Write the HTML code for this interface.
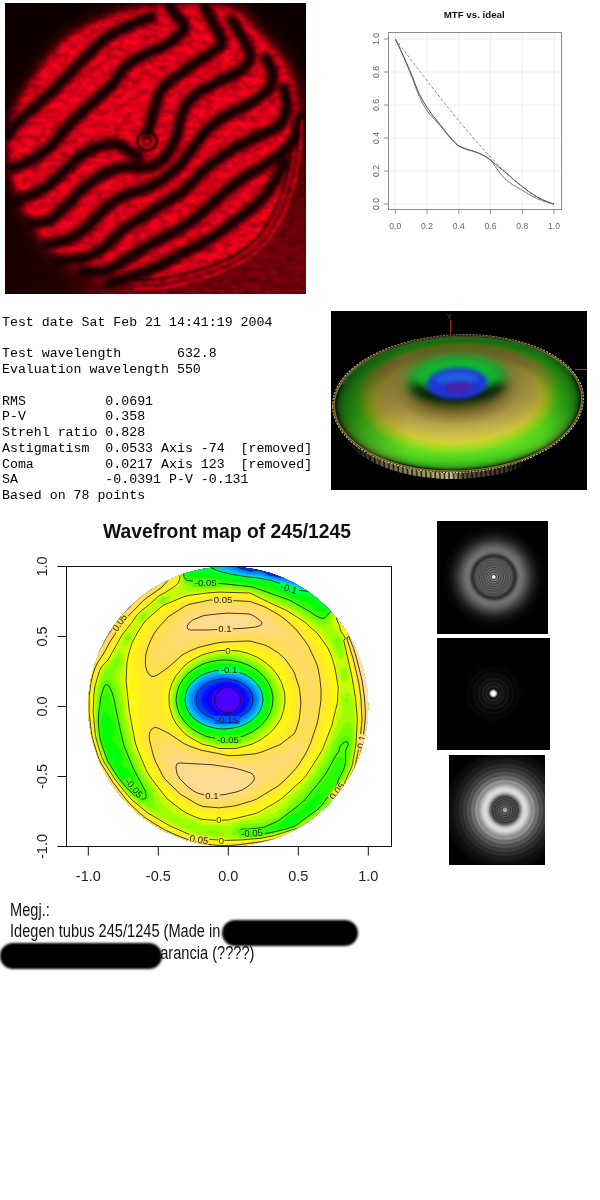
<!DOCTYPE html>
<html><head><meta charset="utf-8"><title>Wavefront report 245/1245</title>
<style>
html,body{margin:0;padding:0;background:#fff}
body{width:600px;height:1200px;position:relative;overflow:hidden;font-family:"Liberation Sans",sans-serif}
#stats{position:absolute;left:2px;top:314.8px;margin:0;font:13.25px/15.75px "Liberation Mono",monospace;color:#000;white-space:pre}
.mt{font:8.6px "Liberation Sans",sans-serif;fill:#666}
.ax{font:14.5px "Liberation Sans",sans-serif;fill:#222}
  .cl{font:9.6px "Liberation Sans",sans-serif;fill:#222}
#note{position:absolute;left:10px;top:900px;margin:0;font:17.5px/21.4px "Liberation Sans",sans-serif;color:#111;white-space:pre;transform-origin:0 0;transform:scaleX(0.835)}
.red{position:absolute;background:#000;border-radius:13px;filter:blur(1.2px)}
</style></head><body>
<svg style="position:absolute;left:5px;top:3px" width="301" height="291" viewBox="0 0 301 291">
<defs><filter id="b3" x="-10%" y="-10%" width="120%" height="120%"><feGaussianBlur stdDeviation="3"/></filter><filter id="b1" x="-10%" y="-10%" width="120%" height="120%"><feGaussianBlur stdDeviation="0.9"/></filter><filter id="b8" x="-15%" y="-15%" width="130%" height="130%"><feGaussianBlur stdDeviation="7"/></filter><filter id="b2" x="-10%" y="-10%" width="120%" height="120%"><feGaussianBlur stdDeviation="2.7"/></filter><radialGradient id="dimr" cx="0.85" cy="0.9" r="0.7"><stop offset="0" stop-color="#8a0010"/><stop offset="0.5" stop-color="#5a0008"/><stop offset="1" stop-color="#100000"/></radialGradient><linearGradient id="dimb" x1="0" y1="0" x2="0" y2="1"><stop offset="0.68" stop-color="#780010" stop-opacity="0"/><stop offset="0.9" stop-color="#780010" stop-opacity="0.6"/><stop offset="1" stop-color="#800010" stop-opacity="0.8"/></linearGradient><radialGradient id="dkc" gradientUnits="userSpaceOnUse" cx="0" cy="291" r="110"><stop offset="0" stop-color="#140000" stop-opacity="0.9"/><stop offset="0.55" stop-color="#140000" stop-opacity="0.75"/><stop offset="1" stop-color="#140000" stop-opacity="0"/></radialGradient><filter id="nz" x="0" y="0" width="100%" height="100%"><feTurbulence type="fractalNoise" baseFrequency="0.11 0.16" numOctaves="2" seed="7" result="t"/><feColorMatrix in="t" type="matrix" values="0 0 0 0 0  0 0 0 0 0  0 0 0 0 0  1.8 0 0 0 -0.62"/></filter></defs>
<rect width="301" height="291" fill="#0a0000"/>
<rect width="301" height="291" fill="url(#dimr)"/>
<rect width="301" height="291" fill="url(#dimb)"/>
<rect width="301" height="291" fill="url(#dkc)"/>
<path d="M-1.6,137.0C-1.3,145.6 -1.6,162.7 1.5,175.8C4.6,189.0 11.0,203.8 17.1,215.8C23.1,227.7 30.1,238.3 37.9,247.2C45.7,256.2 53.0,263.2 63.9,269.3C74.8,275.4 88.1,281.2 103.4,284.0C118.7,286.8 142.4,286.6 155.4,286.1C168.4,285.6 170.7,283.8 181.4,280.9C192.1,277.9 206.9,274.7 219.9,268.2C232.9,261.8 249.0,253.0 259.4,242.0C269.8,231.0 276.2,217.9 282.3,202.1C288.3,186.4 293.2,165.3 295.8,147.5C298.4,129.7 299.8,110.4 297.9,95.0C296.0,79.6 291.1,67.0 284.4,55.1C277.6,43.2 265.6,32.5 257.3,23.6C249.0,14.7 244.5,6.3 234.4,1.5C224.4,-3.2 211.9,-4.1 197.0,-4.8C182.1,-5.4 158.7,-4.1 145.0,-2.7C131.3,-1.3 124.5,0.9 114.8,3.7C105.1,6.5 96.5,9.4 86.8,14.1C77.1,18.9 66.0,23.9 56.6,32.0C47.2,40.1 38.6,51.6 30.6,62.5C22.6,73.3 14.0,86.8 8.8,97.1C3.6,107.4 1.1,117.8 -0.6,124.4C-2.3,131.1 -2.0,128.4 -1.6,137.0Z" fill="#7a0010" filter="url(#b8)" opacity="0.6"/>
<path d="M4.0,137.0C4.3,145.2 4.0,161.5 7.0,174.0C10.0,186.5 16.2,200.7 22.0,212.0C27.8,223.3 34.5,233.5 42.0,242.0C49.5,250.5 56.5,257.2 67.0,263.0C77.5,268.8 90.3,274.3 105.0,277.0C119.7,279.7 142.5,279.5 155.0,279.0C167.5,278.5 169.7,276.8 180.0,274.0C190.3,271.2 204.5,268.2 217.0,262.0C229.5,255.8 245.0,247.5 255.0,237.0C265.0,226.5 271.2,214.0 277.0,199.0C282.8,184.0 287.5,164.0 290.0,147.0C292.5,130.0 293.8,111.7 292.0,97.0C290.2,82.3 285.5,70.3 279.0,59.0C272.5,47.7 261.0,37.5 253.0,29.0C245.0,20.5 240.7,12.5 231.0,8.0C221.3,3.5 209.3,2.7 195.0,2.0C180.7,1.3 158.2,2.7 145.0,4.0C131.8,5.3 125.3,7.3 116.0,10.0C106.7,12.7 98.3,15.5 89.0,20.0C79.7,24.5 69.0,29.3 60.0,37.0C51.0,44.7 42.7,55.7 35.0,66.0C27.3,76.3 19.0,89.2 14.0,99.0C9.0,108.8 6.7,118.7 5.0,125.0C3.3,131.3 3.7,128.8 4.0,137.0Z" fill="#f4001c" filter="url(#b3)"/>
<g fill="none" stroke="#0c0000" stroke-width="11.5" stroke-linecap="round" stroke-linejoin="round" filter="url(#b2)" opacity="0.95">
<path d="M3.0,132.0C5.0,129.5 10.5,121.7 15.0,117.0C19.5,112.3 24.0,109.3 30.0,104.0C36.0,98.7 43.5,92.3 51.0,85.0C58.5,77.7 66.5,68.5 75.0,60.0C83.5,51.5 93.2,40.5 102.0,34.0C110.8,27.5 120.5,24.3 128.0,21.0C135.5,17.7 143.8,15.2 147.0,14.0"/>
<path d="M7.0,165.0C10.3,163.7 20.7,160.5 27.0,157.0C33.3,153.5 38.8,149.8 45.0,144.0C51.2,138.2 57.7,128.7 64.0,122.0C70.3,115.3 75.8,110.7 83.0,104.0C90.2,97.3 100.8,88.7 107.0,82.0C113.2,75.3 114.7,69.0 120.0,64.0C125.3,59.0 132.2,55.7 139.0,52.0C145.8,48.3 155.5,45.0 161.0,42.0C166.5,39.0 168.8,37.0 172.0,34.0C175.2,31.0 180.0,27.5 180.0,24.0C180.0,20.5 174.5,16.3 172.0,13.0C169.5,9.7 166.2,5.5 165.0,4.0"/>
<path d="M13.0,197.0C17.0,195.3 30.0,191.2 37.0,187.0C44.0,182.8 48.3,177.8 55.0,172.0C61.7,166.2 70.3,156.8 77.0,152.0C83.7,147.2 89.2,144.8 95.0,143.0C100.8,141.2 107.0,140.0 112.0,141.0C117.0,142.0 121.3,147.0 125.0,149.0C128.7,151.0 132.5,152.3 134.0,153.0"/>
<path d="M200.0,5.0C202.0,8.5 209.2,20.2 212.0,26.0C214.8,31.8 218.0,36.0 217.0,40.0C216.0,44.0 211.8,45.7 206.0,50.0C200.2,54.3 190.0,60.2 182.0,66.0C174.0,71.8 163.3,78.7 158.0,85.0C152.7,91.3 152.2,97.8 150.0,104.0C147.8,110.2 146.2,117.8 145.0,122.0C143.8,126.2 143.3,127.8 143.0,129.0"/>
<path d="M25.0,221.0C28.3,220.3 38.8,220.2 45.0,217.0C51.2,213.8 56.2,207.5 62.0,202.0C67.8,196.5 73.7,189.3 80.0,184.0C86.3,178.7 93.3,173.3 100.0,170.0C106.7,166.7 113.8,164.8 120.0,164.0C126.2,163.2 132.0,165.3 137.0,165.0C142.0,164.7 145.8,164.2 150.0,162.0C154.2,159.8 158.5,156.7 162.0,152.0C165.5,147.3 168.5,140.8 171.0,134.0C173.5,127.2 174.2,117.7 177.0,111.0C179.8,104.3 183.3,98.7 188.0,94.0C192.7,89.3 198.7,86.5 205.0,83.0C211.3,79.5 219.8,76.5 226.0,73.0C232.2,69.5 238.8,65.8 242.0,62.0C245.2,58.2 246.0,55.0 245.0,50.0C244.0,45.0 239.0,37.5 236.0,32.0C233.0,26.5 228.5,19.5 227.0,17.0"/>
<path d="M43.0,241.0C46.7,240.2 58.5,238.8 65.0,236.0C71.5,233.2 75.8,229.3 82.0,224.0C88.2,218.7 95.7,209.3 102.0,204.0C108.3,198.7 114.2,194.8 120.0,192.0C125.8,189.2 130.8,189.5 137.0,187.0C143.2,184.5 151.2,180.7 157.0,177.0C162.8,173.3 168.3,168.3 172.0,165.0C175.7,161.7 175.8,161.0 179.0,157.0C182.2,153.0 187.2,146.0 191.0,141.0C194.8,136.0 197.0,131.7 202.0,127.0C207.0,122.3 214.0,117.3 221.0,113.0C228.0,108.7 237.0,105.3 244.0,101.0C251.0,96.7 259.0,92.0 263.0,87.0C267.0,82.0 268.3,76.3 268.0,71.0C267.7,65.7 262.2,57.7 261.0,55.0"/>
<path d="M52.0,258.0C57.0,257.3 73.7,256.7 82.0,254.0C90.3,251.3 95.7,246.8 102.0,242.0C108.3,237.2 114.2,229.5 120.0,225.0C125.8,220.5 130.8,218.8 137.0,215.0C143.2,211.2 149.8,206.7 157.0,202.0C164.2,197.3 173.7,192.2 180.0,187.0C186.3,181.8 189.7,176.0 195.0,171.0C200.3,166.0 206.2,161.3 212.0,157.0C217.8,152.7 223.0,149.0 230.0,145.0C237.0,141.0 246.5,136.8 254.0,133.0C261.5,129.2 270.3,126.8 275.0,122.0C279.7,117.2 281.3,110.2 282.0,104.0C282.7,97.8 279.5,88.2 279.0,85.0"/>
<path d="M77.0,269.0C81.2,268.7 94.0,269.5 102.0,267.0C110.0,264.5 117.8,258.2 125.0,254.0C132.2,249.8 135.8,247.2 145.0,242.0C154.2,236.8 170.8,228.8 180.0,223.0C189.2,217.2 194.8,211.3 200.0,207.0C205.2,202.7 205.2,202.0 211.0,197.0C216.8,192.0 227.2,182.7 235.0,177.0C242.8,171.3 251.0,167.5 258.0,163.0C265.0,158.5 271.5,154.8 277.0,150.0C282.5,145.2 287.8,139.8 291.0,134.0C294.2,128.2 295.2,118.2 296.0,115.0"/>
<path d="M105.0,280.0C111.7,277.8 132.5,272.2 145.0,267.0C157.5,261.8 170.0,254.2 180.0,249.0C190.0,243.8 196.7,241.2 205.0,236.0C213.3,230.8 221.7,224.3 230.0,218.0C238.3,211.7 248.3,204.7 255.0,198.0C261.7,191.3 265.8,184.3 270.0,178.0C274.2,171.7 278.3,163.0 280.0,160.0"/>
</g>
<g fill="none" stroke="#1a0000" filter="url(#b1)" opacity="0.85"><circle cx="142" cy="138" r="9.5" stroke-width="3.2"/><circle cx="142" cy="138" r="4" stroke-width="2.2"/></g>
<path d="M287.6,117.6C287.3,122.4 286.8,137.0 285.6,146.7C284.5,156.4 282.9,167.1 280.8,175.8C278.7,184.5 276.0,192.0 273.0,199.1C270.1,206.2 266.9,212.5 263.3,218.5C259.8,224.5 256.4,230.0 251.7,235.0C247.0,240.0 241.4,244.5 235.2,248.6C229.1,252.6 221.3,256.3 214.8,259.2C208.4,262.1 202.4,264.1 196.4,266.0C190.4,267.9 185.9,269.2 178.9,270.9C172.0,272.5 162.8,274.7 154.7,275.7C146.6,276.7 134.5,276.5 130.4,276.7" fill="none" stroke="#200000" stroke-width="2.5" opacity="0.8" filter="url(#b1)"/>
<path d="M297.1,116.3C296.8,121.5 296.3,137.0 295.1,147.3C293.9,157.7 292.1,169.1 289.9,178.4C287.7,187.7 284.7,195.7 281.6,203.2C278.5,210.8 275.1,217.6 271.3,223.9C267.5,230.3 263.9,236.2 258.9,241.5C253.8,246.9 247.8,251.7 241.3,256.0C234.7,260.3 226.4,264.3 219.5,267.4C212.6,270.5 206.2,272.6 199.9,274.7C193.5,276.7 188.6,278.1 181.2,279.8C173.8,281.6 164.0,284.0 155.3,285.0C146.7,286.0 133.8,285.9 129.5,286.0" fill="none" stroke="#f0001c" stroke-width="2.6" opacity="0.9" filter="url(#b1)"/>
<rect width="301" height="291" filter="url(#nz)" opacity="0.38"/>
</svg>
<svg style="position:absolute;left:0;top:0" width="600" height="300" viewBox="0 0 600 300">
<line x1="395.3" y1="32.5" x2="395.3" y2="209.5" stroke="#efefef" stroke-width="1"/>
<line x1="388.5" y1="204.0" x2="561.5" y2="204.0" stroke="#efefef" stroke-width="1"/>
<line x1="427.0" y1="32.5" x2="427.0" y2="209.5" stroke="#efefef" stroke-width="1"/>
<line x1="388.5" y1="171.0" x2="561.5" y2="171.0" stroke="#efefef" stroke-width="1"/>
<line x1="458.8" y1="32.5" x2="458.8" y2="209.5" stroke="#efefef" stroke-width="1"/>
<line x1="388.5" y1="138.0" x2="561.5" y2="138.0" stroke="#efefef" stroke-width="1"/>
<line x1="490.5" y1="32.5" x2="490.5" y2="209.5" stroke="#efefef" stroke-width="1"/>
<line x1="388.5" y1="105.0" x2="561.5" y2="105.0" stroke="#efefef" stroke-width="1"/>
<line x1="522.3" y1="32.5" x2="522.3" y2="209.5" stroke="#efefef" stroke-width="1"/>
<line x1="388.5" y1="72.0" x2="561.5" y2="72.0" stroke="#efefef" stroke-width="1"/>
<line x1="554.0" y1="32.5" x2="554.0" y2="209.5" stroke="#efefef" stroke-width="1"/>
<line x1="388.5" y1="39.0" x2="561.5" y2="39.0" stroke="#efefef" stroke-width="1"/>
<rect x="388.5" y="32.5" width="173" height="177" fill="none" stroke="#8c8c8c" stroke-width="1"/>
<line x1="395.3" y1="209.5" x2="395.3" y2="214" stroke="#8c8c8c" stroke-width="1"/>
<line x1="388.5" y1="204.0" x2="384" y2="204.0" stroke="#8c8c8c" stroke-width="1"/>
<text x="395.3" y="228.5" text-anchor="middle" class="mt">0.0</text>
<text transform="translate(379,204.0) rotate(-90)" text-anchor="middle" class="mt">0.0</text>
<line x1="427.0" y1="209.5" x2="427.0" y2="214" stroke="#8c8c8c" stroke-width="1"/>
<line x1="388.5" y1="171.0" x2="384" y2="171.0" stroke="#8c8c8c" stroke-width="1"/>
<text x="427.0" y="228.5" text-anchor="middle" class="mt">0.2</text>
<text transform="translate(379,171.0) rotate(-90)" text-anchor="middle" class="mt">0.2</text>
<line x1="458.8" y1="209.5" x2="458.8" y2="214" stroke="#8c8c8c" stroke-width="1"/>
<line x1="388.5" y1="138.0" x2="384" y2="138.0" stroke="#8c8c8c" stroke-width="1"/>
<text x="458.8" y="228.5" text-anchor="middle" class="mt">0.4</text>
<text transform="translate(379,138.0) rotate(-90)" text-anchor="middle" class="mt">0.4</text>
<line x1="490.5" y1="209.5" x2="490.5" y2="214" stroke="#8c8c8c" stroke-width="1"/>
<line x1="388.5" y1="105.0" x2="384" y2="105.0" stroke="#8c8c8c" stroke-width="1"/>
<text x="490.5" y="228.5" text-anchor="middle" class="mt">0.6</text>
<text transform="translate(379,105.0) rotate(-90)" text-anchor="middle" class="mt">0.6</text>
<line x1="522.3" y1="209.5" x2="522.3" y2="214" stroke="#8c8c8c" stroke-width="1"/>
<line x1="388.5" y1="72.0" x2="384" y2="72.0" stroke="#8c8c8c" stroke-width="1"/>
<text x="522.3" y="228.5" text-anchor="middle" class="mt">0.8</text>
<text transform="translate(379,72.0) rotate(-90)" text-anchor="middle" class="mt">0.8</text>
<line x1="554.0" y1="209.5" x2="554.0" y2="214" stroke="#8c8c8c" stroke-width="1"/>
<line x1="388.5" y1="39.0" x2="384" y2="39.0" stroke="#8c8c8c" stroke-width="1"/>
<text x="554.0" y="228.5" text-anchor="middle" class="mt">1.0</text>
<text transform="translate(379,39.0) rotate(-90)" text-anchor="middle" class="mt">1.0</text>
<polyline points="395.3,39.0 396.9,41.1 398.5,43.2 400.1,45.3 401.6,47.4 403.2,49.5 404.8,51.6 406.4,53.7 408.0,55.8 409.6,57.9 411.2,60.0 412.8,62.1 414.3,64.1 415.9,66.2 417.5,68.3 419.1,70.4 420.7,72.5 422.3,74.5 423.9,76.6 425.5,78.7 427.0,80.7 428.6,82.8 430.2,84.8 431.8,86.9 433.4,88.9 435.0,91.0 436.6,93.0 438.1,95.0 439.7,97.0 441.3,99.1 442.9,101.1 444.5,103.1 446.1,105.1 447.7,107.0 449.3,109.0 450.8,111.0 452.4,113.0 454.0,114.9 455.6,116.9 457.2,118.8 458.8,120.7 460.4,122.7 462.0,124.6 463.5,126.5 465.1,128.4 466.7,130.2 468.3,132.1 469.9,134.0 471.5,135.8 473.1,137.7 474.6,139.5 476.2,141.3 477.8,143.1 479.4,144.9 481.0,146.7 482.6,148.4 484.2,150.2 485.8,151.9 487.3,153.6 488.9,155.3 490.5,157.0 492.1,158.7 493.7,160.3 495.3,162.0 496.9,163.6 498.5,165.2 500.0,166.8 501.6,168.4 503.2,169.9 504.8,171.4 506.4,173.0 508.0,174.5 509.6,175.9 511.2,177.4 512.7,178.8 514.3,180.2 515.9,181.6 517.5,182.9 519.1,184.2 520.7,185.6 522.3,186.8 523.8,188.1 525.4,189.3 527.0,190.5 528.6,191.6 530.2,192.8 531.8,193.8 533.4,194.9 535.0,195.9 536.5,196.9 538.1,197.8 539.7,198.7 541.3,199.6 542.9,200.4 544.5,201.1 546.1,201.8 547.7,202.4 549.2,203.0 550.8,203.4 552.4,203.8 554.0,204.0" fill="none" stroke="#777" stroke-width="0.9" stroke-dasharray="3,2"/>
<polyline points="395.3,39.0 396.9,42.2 398.5,45.4 400.1,48.7 401.6,52.1 403.2,55.5 404.8,59.0 406.4,62.6 408.0,66.2 409.6,69.9 411.2,73.7 412.8,77.6 414.3,81.8 415.9,85.9 417.5,89.9 419.1,93.4 420.7,96.6 422.3,99.6 423.9,102.4 425.5,105.0 427.0,107.5 428.6,109.8 430.2,112.0 431.8,114.1 433.4,116.2 435.0,118.2 436.6,120.2 438.1,122.2 439.7,124.2 441.3,126.1 442.9,128.1 444.5,130.1 446.1,132.2 447.7,134.2 449.3,136.2 450.8,138.0 452.4,139.8 454.0,141.5 455.6,143.2 457.2,144.6 458.8,145.8 460.4,146.6 462.0,147.3 463.5,147.9 465.1,148.5 466.7,149.1 468.3,149.6 469.9,150.1 471.5,150.5 473.1,151.0 474.6,151.5 476.2,152.1 477.8,152.7 479.4,153.4 481.0,154.1 482.6,154.8 484.2,155.7 485.8,156.6 487.3,157.7 488.9,158.8 490.5,159.9 492.1,161.2 493.7,162.6 495.3,164.1 496.9,165.5 498.5,166.9 500.0,168.2 501.6,169.4 503.2,170.6 504.8,171.9 506.4,173.1 508.0,174.5 509.6,175.8 511.2,177.2 512.7,178.6 514.3,179.9 515.9,181.3 517.5,182.7 519.1,184.0 520.7,185.3 522.3,186.5 523.8,187.7 525.4,188.9 527.0,190.1 528.6,191.3 530.2,192.4 531.8,193.5 533.4,194.6 535.0,195.6 536.5,196.5 538.1,197.4 539.7,198.2 541.3,199.0 542.9,199.8 544.5,200.5 546.1,201.2 547.7,201.8 549.2,202.4 550.8,203.0 552.4,203.5 554.0,204.0" fill="none" stroke="#333" stroke-width="0.9"/>
<polyline points="395.3,39.0 396.9,42.3 398.5,45.7 400.1,49.2 401.6,52.7 403.2,56.3 404.8,60.0 406.4,63.7 408.0,67.5 409.6,71.4 411.2,75.3 412.8,79.4 414.3,83.7 415.9,88.1 417.5,92.2 419.1,95.9 420.7,99.3 422.3,102.6 423.9,105.6 425.5,108.3 427.0,110.8 428.6,112.9 430.2,114.7 431.8,116.4 433.4,118.1 435.0,119.8 436.6,121.7 438.1,123.4 439.7,125.2 441.3,127.1 442.9,128.9 444.5,130.9 446.1,133.0 447.7,135.0 449.3,137.0 450.8,138.8 452.4,140.5 454.0,142.2 455.6,143.8 457.2,145.2 458.8,146.2 460.4,147.1 462.0,147.8 463.5,148.4 465.1,149.0 466.7,149.6 468.3,150.1 469.9,150.5 471.5,150.9 473.1,151.4 474.6,151.9 476.2,152.4 477.8,153.0 479.4,153.7 481.0,154.4 482.6,155.2 484.2,156.0 485.8,156.9 487.3,157.9 488.9,159.0 490.5,160.3 492.1,162.0 493.7,164.1 495.3,166.5 496.9,168.8 498.5,171.0 500.0,173.0 501.6,175.0 503.2,176.9 504.8,178.6 506.4,180.1 508.0,181.4 509.6,182.6 511.2,183.7 512.7,184.7 514.3,185.7 515.9,186.6 517.5,187.6 519.1,188.5 520.7,189.4 522.3,190.3 523.8,191.3 525.4,192.2 527.0,193.2 528.6,194.1 530.2,195.1 531.8,196.0 533.4,196.8 535.0,197.6 536.5,198.4 538.1,199.1 539.7,199.7 541.3,200.3 542.9,200.9 544.5,201.4 546.1,201.9 547.7,202.4 549.2,202.9 550.8,203.3 552.4,203.7 554.0,204.0" fill="none" stroke="#666" stroke-width="0.9"/>
<text x="474.2" y="18.2" text-anchor="middle" style="font:bold 9.7px 'Liberation Sans',sans-serif;fill:#111">MTF vs. ideal</text>
</svg>
<pre id="stats">Test date Sat Feb 21 14:41:19 2004

Test wavelength       632.8
Evaluation wavelength 550

RMS          0.0691
P-V          0.358
Strehl ratio 0.828
Astigmatism  0.0533 Axis -74  [removed]
Coma         0.0217 Axis 123  [removed]
SA           -0.0391 P-V -0.131
Based on 78 points</pre>
<svg style="position:absolute;left:331px;top:311px" width="256" height="179" viewBox="0 0 256 179">
<defs><radialGradient id="sf" gradientUnits="userSpaceOnUse" cx="0" cy="0" r="1" fx="-0.0016" fy="-0.2817" gradientTransform="translate(127.0 90.7) scale(122.4 67.8)"><stop offset="0" stop-color="#6a6020"/><stop offset="0.3" stop-color="#7c6c28"/><stop offset="0.4" stop-color="#a08c3c"/><stop offset="0.5" stop-color="#c4ac50"/><stop offset="0.6" stop-color="#d0b850"/><stop offset="0.68" stop-color="#d4c834"/><stop offset="0.75" stop-color="#98d418"/><stop offset="0.82" stop-color="#44d418"/><stop offset="0.9" stop-color="#30c818"/><stop offset="0.955" stop-color="#28a818"/><stop offset="0.985" stop-color="#1c7010"/><stop offset="1.0" stop-color="#0c3008"/></radialGradient><linearGradient id="sh" x1="0" y1="0" x2="0" y2="1"><stop offset="0" stop-color="#000" stop-opacity="0.5"/><stop offset="0.4" stop-color="#000" stop-opacity="0.24"/><stop offset="0.8" stop-color="#000" stop-opacity="0"/></linearGradient><linearGradient id="shx" x1="0" y1="0" x2="1" y2="0"><stop offset="0" stop-color="#000" stop-opacity="0.35"/><stop offset="0.3" stop-color="#000" stop-opacity="0"/><stop offset="0.85" stop-color="#000" stop-opacity="0"/><stop offset="1" stop-color="#000" stop-opacity="0.2"/></linearGradient><linearGradient id="hl" x1="0" y1="0" x2="0" y2="1"><stop offset="0.55" stop-color="#ffff60" stop-opacity="0"/><stop offset="0.85" stop-color="#e0ff40" stop-opacity="0.22"/><stop offset="1" stop-color="#a0ff40" stop-opacity="0.1"/></linearGradient><pattern id="bars" width="4.6" height="10" patternUnits="userSpaceOnUse"><rect width="4.6" height="10" fill="#1a1608"/><rect x="0.8" width="3.2" height="10" fill="#c4b880"/></pattern><filter id="f3b" x="-50%" y="-100%" width="200%" height="300%"><feGaussianBlur stdDeviation="2.2"/></filter><filter id="f3c" x="-50%" y="-100%" width="200%" height="300%"><feGaussianBlur stdDeviation="4.2"/></filter><filter id="f3d" x="-30%" y="-30%" width="160%" height="160%"><feGaussianBlur stdDeviation="6"/></filter><filter id="f3a" x="-5%" y="-5%" width="110%" height="110%"><feGaussianBlur stdDeviation="0.8"/></filter><clipPath id="lowhalf"><rect x="0" y="120.7" width="256" height="100"/></clipPath><clipPath id="tophalf"><rect x="0" y="0" width="256" height="68.7"/></clipPath><linearGradient id="skg" x1="0" y1="0" x2="1" y2="0"><stop offset="0.05" stop-color="#fff" stop-opacity="0"/><stop offset="0.2" stop-color="#fff" stop-opacity="0.55"/><stop offset="0.46" stop-color="#fff" stop-opacity="1"/><stop offset="0.5" stop-color="#fff" stop-opacity="0.45"/><stop offset="0.68" stop-color="#fff" stop-opacity="0.3"/><stop offset="0.75" stop-color="#fff" stop-opacity="0"/></linearGradient><mask id="skm" maskUnits="userSpaceOnUse" x="0" y="0" width="256" height="179"><rect width="256" height="179" fill="url(#skg)"/></mask><linearGradient id="rmg" x1="0" y1="0" x2="0" y2="1"><stop offset="0" stop-color="#fff" stop-opacity="0.25"/><stop offset="0.3" stop-color="#fff" stop-opacity="1"/></linearGradient><mask id="rmm" maskUnits="userSpaceOnUse" x="0" y="0" width="256" height="179"><rect width="256" height="179" fill="url(#rmg)"/></mask><linearGradient id="tbg" gradientUnits="userSpaceOnUse" x1="0" y1="30.700000000000003" x2="0" y2="82.7"><stop offset="0" stop-color="#fff" stop-opacity="1"/><stop offset="0.5" stop-color="#fff" stop-opacity="0.9"/><stop offset="1" stop-color="#fff" stop-opacity="0"/></linearGradient><mask id="tbm" maskUnits="userSpaceOnUse" x="0" y="0" width="256" height="179"><rect width="256" height="179" fill="url(#tbg)"/></mask><clipPath id="surf"><path d="M4.1,90.7 A122.9,64.5 0 0 1 249.9,90.7 A122.9,68.3 0 0 1 4.1,90.7Z"/></clipPath></defs>
<rect width="256" height="179" fill="#000"/>
<g transform="rotate(-2.3 127.0 90.7)">
<g clip-path="url(#lowhalf)" mask="url(#skm)"><path d="M2.6,98.2 A124.4,66.0 0 0 1 251.4,98.2 A124.4,69.8 0 0 1 2.6,98.2Z" fill="url(#bars)"/></g>
<path d="M2.1,91.7 A124.9,66.5 0 0 1 251.9,91.7 A124.9,70.3 0 0 1 2.1,91.7Z" fill="#04040c"/>
<g mask="url(#rmm)"><path d="M1.6,90.7 A125.4,67.0 0 0 1 252.4,90.7 A125.4,70.8 0 0 1 1.6,90.7Z" fill="none" stroke="#d8d0a0" stroke-width="1" stroke-dasharray="2.2,1.1"/>
<path d="M3.1,90.7 A123.9,65.5 0 0 1 250.9,90.7 A123.9,69.3 0 0 1 3.1,90.7Z" fill="none" stroke="#807428" stroke-width="1.6"/></g>
<g clip-path="url(#surf)">
<g filter="url(#f3a)"><ellipse cx="127.0" cy="90.7" rx="122.4" ry="67.8" fill="url(#sf)"/></g>
<g mask="url(#tbm)"><ellipse cx="127.0" cy="93.7" rx="100.3" ry="53.6" fill="none" stroke="#b49c44" stroke-width="11" filter="url(#f3b)" opacity="0.95"/></g>
<path d="M4.1,90.7 A122.9,64.5 0 0 1 249.9,90.7 A122.9,68.3 0 0 1 4.1,90.7Z" fill="url(#sh)"/>
<path d="M4.1,90.7 A122.9,64.5 0 0 1 249.9,90.7 A122.9,68.3 0 0 1 4.1,90.7Z" fill="url(#shx)"/>
<path d="M4.1,90.7 A122.9,64.5 0 0 1 249.9,90.7 A122.9,68.3 0 0 1 4.1,90.7Z" fill="url(#hl)"/>
<g clip-path="url(#tophalf)"><path d="M4.8,90.7 A122.2,63.8 0 0 1 249.2,90.7 A122.2,67.6 0 0 1 4.8,90.7Z" fill="none" stroke="#187838" stroke-width="2.2" opacity="0.9" filter="url(#f3a)"/></g>
<ellipse cx="126.8" cy="66.6" rx="50" ry="22" fill="#18a828" filter="url(#f3d)"/>
<ellipse cx="126.8" cy="64.6" rx="40" ry="15.5" fill="#10b830" filter="url(#f3c)"/>
<path d="M82.8,73.6 C86.8,92.6 156.8,95.6 171.8,76.6 C151.8,84.6 101.8,85.6 82.8,73.6Z" fill="#050400" stroke="#050400" stroke-width="5" stroke-linejoin="round" opacity="0.95" filter="url(#f3c)"/>
<ellipse cx="126.8" cy="72.39999999999999" rx="30.5" ry="15.5" fill="#1c38d8" filter="url(#f3b)"/>
<ellipse cx="126.8" cy="67.6" rx="22" ry="6.5" fill="#2468e0" opacity="0.8" filter="url(#f3b)"/>
<ellipse cx="127.8" cy="76.6" rx="15" ry="6" fill="#4420a8" filter="url(#f3b)"/>
</g>
</g>
<line x1="119.5" y1="9" x2="119.5" y2="23" stroke="#a82828" stroke-width="1"/>
<text x="116" y="8" style="font:7px 'Liberation Sans',sans-serif;fill:#b03030">Y</text>
<line x1="244" y1="58.5" x2="256" y2="58.5" stroke="#b82828" stroke-width="1.2"/>
</svg>
<svg style="position:absolute;left:0;top:500px" width="420" height="400" viewBox="0 500 420 400">
<defs><clipPath id="disc"><circle cx="228.2" cy="706.5" r="140.0"/></clipPath></defs>
<g clip-path="url(#disc)" shape-rendering="geometricPrecision">
<circle cx="228.2" cy="706.5" r="140.0" fill="#4c00ff"/>
<path d="M66.0,564.0 392.0,564.0 392.0,849.0 66.0,849.0 66.0,564.0Z" fill="#4c00ff" fill-rule="evenodd"/>
<path d="M66.0,564.0 392.0,564.0 392.0,849.0 66.0,849.0 66.0,564.0ZM226.0,692.7 224.0,694.0 222.0,697.0 221.4,700.0 221.7,703.0 223.0,705.8 225.0,707.6 227.0,708.3 230.0,708.1 232.0,707.0 234.2,704.0 234.9,701.0 234.6,698.0 233.2,695.0 231.0,693.1 229.0,692.4 226.0,692.7Z" fill="#4c00ff" fill-rule="evenodd"/>
<path d="M66.0,564.0 392.0,564.0 392.0,849.0 66.0,849.0 66.0,564.0ZM224.0,688.8 220.3,691.0 217.4,695.0 216.4,699.0 216.9,704.0 219.2,708.0 223.0,711.0 227.0,711.8 231.0,711.5 235.2,709.0 238.0,705.3 239.1,701.0 238.4,696.0 236.0,692.0 232.0,689.0 228.0,688.3 224.0,688.8Z" fill="#3500ff" fill-rule="evenodd"/>
<path d="M66.0,564.0 392.0,564.0 392.0,849.0 66.0,849.0 66.0,564.0ZM224.0,685.9 218.7,688.0 216.0,690.0 213.3,693.0 211.4,698.0 211.7,703.0 214.4,708.0 220.0,712.4 225.0,714.0 232.0,713.5 237.0,710.7 241.1,706.0 242.5,701.0 242.0,696.0 239.1,691.0 235.0,687.7 230.0,685.9 224.0,685.9Z" fill="#1100ff" fill-rule="evenodd"/>
<path d="M66.0,564.0 392.0,564.0 392.0,849.0 66.0,849.0 66.0,564.0ZM223.0,683.8 216.0,686.2 209.5,691.0 207.3,694.0 206.1,697.0 205.8,700.0 206.4,703.0 207.8,706.0 210.2,709.0 214.0,712.0 218.0,714.1 225.0,715.9 230.0,715.6 234.0,714.7 240.1,711.0 244.2,706.0 245.8,701.0 245.8,698.0 245.0,695.0 241.8,690.0 236.0,685.7 230.0,683.9 223.0,683.8Z" fill="#0013ff" fill-rule="evenodd"/>
<path d="M66.0,564.0 241.9,564.0 249.0,566.3 258.0,565.2 261.0,565.5 264.0,566.7 271.0,571.5 280.0,573.2 283.0,572.6 286.3,571.0 296.4,564.0 346.9,564.0 368.8,568.0 392.0,570.0 392.0,849.0 66.0,849.0 66.0,564.0ZM222.0,681.9 217.2,683.0 212.2,685.0 208.8,687.0 205.3,690.0 203.0,693.0 201.5,697.0 201.2,700.0 202.0,704.0 204.4,708.0 207.3,711.0 211.9,714.0 216.6,716.0 221.0,717.3 225.0,717.7 231.7,717.0 236.0,715.8 243.0,711.4 247.3,706.0 249.0,700.0 247.8,694.0 244.0,688.7 237.2,684.0 230.0,682.0 222.0,681.9Z" fill="#0036ff" fill-rule="evenodd"/>
<path d="M66.0,564.0 236.1,564.0 240.0,567.0 247.0,569.1 250.0,569.7 257.0,568.9 261.0,569.2 264.0,570.4 270.0,574.0 280.0,576.0 287.1,575.0 307.0,569.6 320.0,568.2 334.0,569.2 361.0,575.0 381.0,577.6 385.0,577.2 392.0,574.4 392.0,849.0 66.0,849.0 66.0,564.0ZM221.0,679.9 215.0,681.2 209.0,683.5 205.0,686.0 201.0,689.8 198.5,694.0 197.4,698.0 197.6,702.0 198.9,706.0 201.7,710.0 206.0,713.8 210.0,716.0 215.6,718.0 222.0,719.4 226.0,719.5 234.0,718.3 238.0,717.0 245.7,712.0 250.0,706.7 251.4,703.0 251.9,700.0 251.7,697.0 250.3,693.0 248.5,690.0 245.6,687.0 238.0,682.2 234.0,680.8 228.0,679.8 221.0,679.9Z" fill="#005aff" fill-rule="evenodd"/>
<path d="M66.0,564.0 231.3,564.0 236.9,568.0 241.0,569.6 250.0,571.8 260.0,571.5 270.0,575.8 280.0,577.8 295.0,577.3 316.0,574.9 326.0,574.9 337.0,576.5 359.3,582.0 374.0,584.2 380.0,582.9 392.0,577.3 392.0,849.0 66.0,849.0 66.0,564.0ZM220.0,677.9 213.0,679.3 207.0,681.6 202.0,684.8 198.0,688.8 195.5,693.0 194.2,698.0 194.3,702.0 196.0,707.0 198.7,711.0 203.1,715.0 208.0,717.8 214.4,720.0 221.0,721.3 226.0,721.4 235.0,720.0 240.5,718.0 248.0,713.0 250.8,710.0 252.7,707.0 254.0,703.6 254.6,700.0 254.2,696.0 252.7,692.0 250.8,689.0 248.0,686.0 244.0,683.0 239.0,680.3 235.0,679.0 228.0,677.8 220.0,677.9Z" fill="#007eff" fill-rule="evenodd"/>
<path d="M66.0,564.0 225.6,564.0 231.8,568.0 239.0,571.0 249.0,573.3 260.0,573.6 269.0,576.9 280.0,579.3 299.0,581.2 318.0,580.5 329.0,581.1 337.0,582.7 356.0,587.9 368.0,589.9 372.0,589.1 377.0,587.2 392.0,579.7 392.0,849.0 66.0,849.0 66.0,564.0ZM218.0,675.9 210.0,677.8 204.0,680.4 199.0,684.0 194.5,689.0 192.1,694.0 191.3,700.0 192.5,706.0 195.2,711.0 200.0,715.8 206.0,719.6 213.0,722.0 221.0,723.4 227.0,723.3 237.0,721.6 242.0,719.6 248.0,716.0 251.4,713.0 253.8,710.0 255.4,707.0 256.7,703.0 257.1,699.0 256.5,695.0 255.0,691.0 253.1,688.0 247.0,682.2 238.9,678.0 227.0,675.6 218.0,675.9Z" fill="#00a2ff" fill-rule="evenodd"/>
<path d="M66.0,564.0 218.2,564.0 227.4,569.0 239.0,572.9 249.0,574.8 260.0,575.6 281.0,581.2 298.0,584.9 317.0,585.7 331.0,587.1 340.0,589.1 354.0,593.2 362.0,594.8 366.0,594.1 372.0,591.8 392.0,581.7 392.0,849.0 66.0,849.0 66.0,564.0ZM216.0,673.9 208.0,676.0 201.7,679.0 195.3,684.0 191.5,689.0 189.1,695.0 188.6,701.0 190.0,707.0 193.6,713.0 198.8,718.0 205.0,721.7 212.0,724.1 221.0,725.6 228.0,725.4 238.0,723.6 244.0,721.2 250.0,717.4 253.7,714.0 256.6,710.0 258.5,706.0 259.4,702.0 259.5,698.0 258.8,694.0 257.2,690.0 254.6,686.0 247.8,680.0 239.0,675.7 227.0,673.4 222.0,673.3 216.0,673.9Z" fill="#00c5ff" fill-rule="evenodd"/>
<path d="M66.0,564.0 207.8,564.0 220.3,570.0 233.0,573.6 249.0,576.4 258.0,577.1 271.0,579.7 299.0,588.8 313.0,590.1 324.0,592.0 337.0,593.3 357.0,598.9 362.0,598.1 369.8,595.0 392.0,583.6 392.0,849.0 66.0,849.0 66.0,564.0ZM222.0,671.0 214.0,671.9 205.0,674.7 199.0,677.9 193.0,682.9 189.2,688.0 186.7,694.0 186.0,700.0 187.0,706.0 189.8,712.0 193.9,717.0 200.5,722.0 207.0,725.1 215.0,727.2 223.0,728.0 231.0,727.3 240.0,725.4 246.0,722.8 251.0,719.6 255.1,716.0 258.2,712.0 260.3,708.0 261.7,703.0 262.0,698.0 261.0,693.0 258.8,688.0 256.0,684.0 252.0,680.2 247.0,676.7 242.0,674.3 236.0,672.5 229.0,671.3 222.0,671.0Z" fill="#00ff49" fill-rule="evenodd"/>
<path d="M66.0,564.0 191.8,564.0 197.0,567.1 209.0,570.0 221.0,573.8 234.0,576.2 255.0,578.8 271.0,581.4 297.0,591.9 302.0,593.1 312.0,594.3 322.0,598.0 325.0,598.4 333.0,597.6 338.0,597.7 343.0,598.8 353.0,602.3 357.0,601.9 365.1,599.0 392.0,585.3 392.0,849.0 66.0,849.0 66.0,564.0ZM217.0,669.0 208.0,671.1 201.0,673.9 193.6,679.0 188.9,684.0 185.4,690.0 183.6,697.0 183.9,704.0 186.4,711.0 191.0,717.5 197.0,722.6 204.0,726.5 212.0,729.0 221.0,730.4 228.0,730.2 239.0,728.2 247.0,725.0 253.0,721.1 257.0,717.4 260.4,713.0 262.9,708.0 264.2,703.0 264.4,698.0 263.5,693.0 261.6,688.0 259.0,683.9 255.0,679.6 250.0,675.8 244.0,672.6 238.0,670.5 231.0,669.1 224.0,668.5 217.0,669.0Z" fill="#00ff22" fill-rule="evenodd"/>
<path d="M66.0,564.0 186.0,564.0 190.8,571.0 194.0,572.4 207.0,574.2 222.0,577.2 271.0,583.8 297.0,595.4 302.0,596.8 311.0,598.4 313.7,600.0 319.0,604.7 322.0,606.0 324.0,605.6 331.0,602.2 336.0,601.1 342.0,601.8 350.0,605.0 355.0,604.5 368.8,599.0 392.0,586.9 392.0,849.0 66.0,849.0 66.0,564.0ZM106.0,729.5 106.0,732.4 106.0,729.5ZM110.0,747.6 109.5,748.0 109.3,750.0 110.9,758.0 113.0,760.7 115.0,761.3 116.0,760.0 116.3,758.0 115.7,754.0 113.2,750.0 110.0,747.6ZM124.0,774.4 123.4,775.0 123.8,776.0 126.0,778.5 126.8,778.0 126.4,777.0 124.0,774.4ZM214.0,667.0 205.0,669.5 197.0,673.5 190.0,679.1 184.7,686.0 182.0,692.9 181.1,700.0 182.5,708.0 186.0,715.0 191.1,721.0 199.0,726.7 207.0,730.3 217.0,732.4 226.0,732.9 237.0,731.3 244.2,729.0 252.0,724.8 257.0,720.9 261.0,716.5 264.3,711.0 266.1,706.0 266.9,700.0 266.5,695.0 264.7,689.0 262.0,684.0 258.9,680.0 254.0,675.6 248.0,671.8 242.0,669.1 235.0,667.2 228.0,666.2 221.0,666.1 214.0,667.0ZM291.0,818.7 286.0,822.0 284.8,824.0 285.0,824.5 287.0,825.0 293.0,822.9 294.5,821.0 294.5,819.0 293.0,818.3 291.0,818.7Z" fill="#04ff00" fill-rule="evenodd"/>
<path d="M66.0,564.0 181.9,564.0 185.1,568.0 187.0,574.6 188.2,576.0 245.0,582.7 270.0,587.0 282.0,591.9 298.0,599.5 308.1,603.0 317.0,610.1 321.0,612.1 324.0,611.6 331.2,606.0 336.0,604.1 341.0,604.3 349.0,607.2 356.0,606.0 369.8,600.0 392.0,588.4 392.0,849.0 66.0,849.0 66.0,564.0ZM104.0,711.8 102.0,715.6 100.8,722.0 101.8,737.0 108.8,759.0 116.2,770.0 119.0,775.0 127.0,785.1 131.0,787.9 134.0,789.2 135.0,789.1 133.6,780.0 131.0,774.1 127.0,769.0 120.4,765.0 121.5,757.0 120.4,752.0 117.0,745.8 111.3,740.0 113.5,730.0 112.2,722.0 110.0,717.1 107.0,713.1 105.0,711.7 104.0,711.8ZM217.0,664.0 207.0,666.2 199.0,669.6 191.0,675.0 185.4,681.0 181.2,688.0 179.0,697.0 179.2,703.0 181.2,711.0 185.4,718.0 191.0,724.0 198.4,729.0 207.0,732.9 219.0,735.3 225.0,735.7 237.0,733.9 244.0,731.8 251.0,728.4 257.0,724.2 262.0,719.2 265.6,714.0 268.1,708.0 269.3,702.0 269.0,695.0 267.4,689.0 264.4,683.0 260.0,677.5 254.7,673.0 248.0,668.9 241.0,666.1 233.0,664.3 225.0,663.5 217.0,664.0ZM320.0,793.8 316.0,795.8 310.0,801.1 304.2,807.0 301.0,812.4 300.0,813.0 294.0,813.9 290.0,815.9 276.8,826.0 276.1,827.0 276.6,828.0 286.0,827.4 293.0,825.2 295.0,824.0 302.0,815.8 309.2,812.0 315.0,807.1 318.0,802.8 319.8,799.0 320.9,795.0 320.0,793.8Z" fill="#2aff00" fill-rule="evenodd"/>
<path d="M66.0,564.0 177.4,564.0 180.7,566.0 183.0,568.8 184.2,572.0 184.7,577.0 187.0,579.2 201.0,581.1 245.0,585.1 254.0,586.5 271.0,591.7 288.0,598.1 308.0,608.7 318.0,615.4 322.0,616.8 325.0,615.7 331.7,609.0 335.0,607.1 340.0,606.6 348.0,609.0 354.0,608.1 368.6,602.0 392.0,589.9 392.0,849.0 66.0,849.0 66.0,564.0ZM105.0,692.7 103.0,695.5 101.5,700.0 99.5,713.0 98.9,723.0 100.3,738.0 107.0,758.4 108.1,761.0 117.0,775.0 126.3,787.0 137.0,795.8 139.2,797.0 142.0,797.4 143.0,797.0 143.9,795.0 143.1,790.0 129.6,764.0 121.4,743.0 111.5,699.0 110.0,695.4 108.0,692.7 107.0,692.2 105.0,692.7ZM221.0,661.0 211.0,662.6 203.2,665.0 196.0,668.7 189.0,673.7 184.0,679.4 179.8,686.0 177.7,693.0 176.8,700.0 178.2,708.0 180.3,714.0 186.0,722.1 191.0,726.9 198.0,731.5 206.0,735.3 220.0,738.1 225.0,738.4 237.0,736.6 244.0,734.6 252.0,730.8 259.0,725.9 264.6,720.0 268.9,713.0 271.3,706.0 271.9,698.0 270.5,690.0 267.4,683.0 262.1,676.0 256.3,671.0 249.0,666.6 240.0,663.2 230.0,661.3 221.0,661.0ZM339.0,757.8 337.0,759.1 334.4,762.0 328.7,774.0 319.0,786.3 305.7,801.0 296.4,809.0 290.0,813.1 279.0,821.4 265.0,828.4 257.0,830.1 250.0,830.8 244.0,830.6 242.6,831.0 242.4,832.0 243.5,833.0 246.0,833.9 250.0,833.1 254.0,833.3 258.0,832.5 262.0,833.0 270.9,832.0 287.0,828.3 295.9,825.0 303.0,819.0 314.8,811.0 321.6,804.0 324.0,799.7 331.9,790.0 335.6,784.0 337.0,779.2 342.4,769.0 344.0,763.0 344.0,761.0 342.9,758.0 342.0,757.1 339.0,757.8Z" fill="#50ff00" fill-rule="evenodd"/>
<path d="M66.0,564.0 173.5,564.0 179.0,567.3 181.0,569.2 182.5,572.0 184.0,578.9 186.0,581.4 188.0,582.5 200.0,584.4 222.0,585.1 246.0,587.2 253.0,588.3 288.0,601.4 307.0,612.3 318.0,619.4 322.0,620.7 324.0,620.5 326.0,619.3 331.7,612.0 335.0,609.5 339.0,608.7 345.0,610.3 348.0,610.6 355.0,609.1 369.3,603.0 392.0,591.3 392.0,849.0 66.0,849.0 66.0,564.0ZM105.0,680.7 102.0,685.4 99.2,697.0 97.7,711.0 97.5,722.0 99.1,738.0 105.6,758.0 107.0,761.2 116.0,775.6 126.0,788.4 133.0,795.1 138.0,798.9 144.0,801.7 147.6,802.0 148.6,801.0 149.3,798.0 148.2,792.0 135.6,769.0 126.2,746.0 120.4,721.0 116.2,698.0 114.0,689.1 112.1,685.0 110.6,683.0 107.0,680.4 105.0,680.7ZM217.0,658.9 206.0,661.4 198.0,665.0 188.0,671.8 182.5,678.0 177.7,686.0 175.3,696.0 175.1,702.0 177.4,712.0 180.5,718.0 187.0,726.3 194.0,731.7 204.0,737.2 209.0,738.7 223.0,741.2 231.0,740.5 243.0,737.8 251.0,734.4 258.1,730.0 264.0,724.7 269.2,718.0 272.6,711.0 274.3,704.0 274.4,696.0 273.0,689.0 269.8,682.0 265.0,675.3 259.0,669.8 251.6,665.0 244.0,661.7 235.0,659.3 225.0,658.3 217.0,658.9ZM345.0,735.9 341.0,738.7 338.0,742.7 330.8,759.0 322.7,773.0 306.0,795.0 302.0,799.5 284.1,815.0 278.0,819.4 263.0,825.6 255.0,826.8 241.0,827.3 239.0,828.2 237.2,830.0 236.8,832.0 237.4,833.0 240.9,835.0 245.0,835.8 262.0,834.7 271.0,833.4 287.0,829.2 294.0,827.0 297.8,825.0 318.6,810.0 324.0,805.0 338.0,786.4 345.9,768.0 347.7,762.0 348.4,755.0 350.4,745.0 350.6,741.0 350.0,737.3 349.0,735.8 345.0,735.9Z" fill="#77ff00" fill-rule="evenodd"/>
<path d="M66.0,564.0 171.2,564.0 180.3,571.0 181.8,574.0 184.0,582.7 186.0,585.3 188.0,586.4 199.0,587.7 221.0,587.2 246.0,588.9 252.0,589.8 273.0,599.0 288.0,604.7 306.0,615.2 317.0,622.6 320.0,624.1 323.0,624.8 325.0,624.6 327.0,623.4 331.7,615.0 334.0,612.5 336.0,611.3 339.0,610.8 347.0,612.1 355.0,610.4 369.8,604.0 392.0,592.7 392.0,849.0 66.0,849.0 66.0,564.0ZM117.0,657.0 114.5,659.0 111.2,667.0 107.0,670.2 104.0,674.1 101.0,680.8 98.6,688.0 97.0,698.7 96.1,713.0 96.5,724.0 98.3,739.0 105.8,761.0 115.1,776.0 124.4,788.0 132.0,796.1 138.0,800.8 149.0,807.3 153.0,808.6 155.0,808.4 155.8,807.0 155.5,804.0 153.0,794.0 150.0,788.0 143.0,777.3 139.7,771.0 130.5,749.0 128.6,743.0 122.7,717.0 118.4,691.0 113.7,676.0 114.3,671.0 119.0,665.2 120.4,662.0 120.6,660.0 120.0,658.0 119.0,657.1 117.0,657.0ZM127.0,635.8 125.0,638.0 125.2,640.0 126.0,640.9 128.0,640.5 129.5,638.0 129.0,636.1 127.0,635.8ZM142.0,614.9 139.9,617.0 140.0,618.5 141.0,619.1 143.0,618.2 143.9,617.0 144.1,616.0 143.5,615.0 142.0,614.9ZM162.0,597.9 160.0,600.0 160.1,601.0 161.0,601.7 163.7,601.0 165.0,599.0 164.0,597.8 162.0,597.9ZM220.0,655.9 208.0,658.4 201.0,660.9 192.0,666.2 185.0,672.0 179.0,679.7 175.9,686.0 173.5,696.0 173.6,704.0 175.9,713.0 179.0,719.3 185.9,728.0 193.0,733.6 204.0,739.8 219.0,743.5 224.0,743.8 234.0,742.8 244.0,740.3 252.0,737.0 260.0,732.0 266.5,726.0 272.3,718.0 275.5,711.0 277.2,703.0 277.0,694.0 274.8,686.0 270.6,678.0 265.0,671.4 258.0,665.7 250.0,661.2 240.0,657.7 231.0,656.1 220.0,655.9ZM337.0,638.0 334.8,639.0 334.3,641.0 334.6,643.0 337.0,648.8 339.0,651.0 340.0,651.2 341.0,650.1 341.2,648.0 339.9,642.0 341.0,641.4 341.3,640.0 339.0,638.5 337.0,638.0ZM343.0,674.0 343.3,676.0 344.0,676.4 345.0,676.1 345.0,673.9 344.0,673.4 343.0,674.0ZM346.0,698.5 345.0,699.6 344.9,701.0 346.0,702.5 347.0,702.6 348.0,701.4 348.1,700.0 347.0,698.5 346.0,698.5ZM189.0,825.0 188.3,826.0 189.5,827.0 191.0,827.4 192.5,827.0 191.8,826.0 189.0,825.0ZM211.0,830.0 207.3,831.0 208.1,832.0 211.0,833.0 217.0,833.3 218.5,833.0 219.5,832.0 218.2,831.0 215.0,830.0 211.0,830.0ZM346.0,722.6 344.1,724.0 343.0,725.5 334.4,741.0 326.4,759.0 316.3,775.0 302.0,793.1 292.0,802.5 282.9,812.0 276.0,817.2 263.0,822.2 255.0,823.5 242.0,824.2 238.0,825.3 235.0,827.3 232.0,831.0 231.6,833.0 232.5,834.0 235.0,835.3 239.0,836.5 246.9,837.0 269.0,834.8 287.0,830.0 296.0,827.0 299.7,825.0 318.3,812.0 324.2,807.0 339.8,787.0 349.2,765.0 352.7,744.0 352.5,732.0 352.0,726.5 351.0,723.7 348.0,722.4 346.0,722.6Z" fill="#9dff00" fill-rule="evenodd"/>
<path d="M66.0,564.0 169.4,564.0 178.0,571.0 180.5,574.0 181.4,577.0 181.9,588.0 182.3,589.0 184.0,590.2 187.0,590.8 193.0,590.9 219.0,589.3 247.0,590.5 252.0,591.4 272.0,601.0 290.0,608.6 305.4,618.0 317.0,626.6 324.5,631.0 327.4,634.0 332.4,647.0 335.5,653.0 339.0,657.1 341.0,658.5 343.0,659.1 343.8,657.0 344.0,652.0 343.1,645.0 341.9,641.0 343.0,640.4 343.6,639.0 335.9,632.0 332.9,628.0 332.1,625.0 332.0,621.0 332.5,618.0 334.0,615.1 337.0,613.2 344.0,613.8 347.0,613.5 356.0,611.3 370.3,605.0 392.0,594.1 392.0,849.0 66.0,849.0 66.0,564.0ZM119.0,651.7 116.0,653.4 114.0,655.4 109.3,663.0 103.0,669.8 101.0,674.0 97.0,686.8 95.7,696.0 94.8,711.0 95.4,724.0 97.0,737.1 104.4,760.0 114.8,777.0 124.0,788.9 131.2,797.0 148.0,809.9 186.3,830.0 191.6,832.0 205.8,836.0 213.0,837.0 230.0,837.3 242.0,838.3 262.0,836.8 273.0,834.7 289.3,830.0 300.0,825.9 320.0,812.1 325.8,807.0 341.0,787.3 350.7,765.0 354.5,741.0 354.8,721.0 352.5,709.0 352.3,699.0 350.0,693.9 348.0,692.2 346.0,692.0 343.5,694.0 341.8,698.0 341.5,702.0 342.1,711.0 340.7,717.0 335.7,730.0 326.7,751.0 323.0,758.0 312.8,774.0 307.0,781.6 300.0,789.0 277.0,811.2 272.1,814.0 261.0,818.3 255.0,819.7 240.0,821.7 230.0,825.6 226.0,826.3 201.0,824.4 191.0,820.5 181.0,817.7 175.0,814.8 167.0,808.9 161.3,802.0 154.1,789.0 144.0,774.0 132.6,747.0 125.4,715.0 119.8,680.0 119.9,675.0 123.1,663.0 123.5,657.0 122.0,652.4 121.0,651.6 119.0,651.7ZM128.0,632.8 124.8,635.0 122.9,638.0 122.5,643.0 123.0,644.7 124.0,645.6 126.0,645.3 128.0,643.9 131.5,638.0 131.9,635.0 131.0,633.0 130.0,632.5 128.0,632.8ZM145.0,612.0 142.0,613.0 138.6,616.0 137.3,619.0 138.0,621.6 139.0,622.0 141.0,621.6 145.2,618.0 146.5,616.0 147.0,614.0 146.9,613.0 146.0,612.1 145.0,612.0ZM163.0,595.8 160.0,597.4 158.0,600.0 157.2,603.0 158.0,603.8 161.0,603.7 165.0,602.2 167.8,600.0 169.3,598.0 169.7,596.0 169.0,595.5 163.0,595.8ZM217.0,654.0 205.0,656.9 199.0,659.5 189.0,665.8 182.4,672.0 176.6,680.0 173.1,689.0 171.7,697.0 172.3,707.0 175.1,716.0 178.5,722.0 185.1,730.0 192.9,736.0 203.0,741.7 212.0,743.7 219.0,745.9 236.0,745.2 248.0,741.7 254.2,739.0 263.3,733.0 270.0,726.4 275.7,718.0 278.8,710.0 280.3,701.0 279.7,692.0 276.8,683.0 272.0,675.0 266.0,668.4 257.3,662.0 248.0,657.5 238.0,654.5 225.0,653.4 217.0,654.0ZM343.0,666.7 342.0,667.3 340.3,670.0 339.7,675.0 340.5,678.0 342.0,680.5 345.0,682.3 347.0,681.2 348.0,679.6 348.7,675.0 348.0,672.1 346.0,668.1 344.0,666.6 343.0,666.7Z" fill="#c3ff00" fill-rule="evenodd"/>
<path d="M66.0,564.0 167.8,564.0 178.0,573.1 180.0,575.7 180.5,578.0 180.0,581.0 179.0,583.7 177.0,586.3 165.9,593.0 160.0,595.7 149.0,606.3 142.0,611.0 136.8,616.0 132.4,624.0 122.1,636.0 118.4,644.0 108.9,660.0 103.0,666.0 101.1,669.0 99.0,673.9 96.0,684.5 94.6,692.0 93.6,711.0 95.2,731.0 96.5,739.0 103.9,761.0 114.0,777.4 123.0,789.1 132.0,799.3 148.0,812.3 170.0,825.0 190.7,834.0 204.7,838.0 211.0,839.0 223.0,839.7 241.0,839.5 261.0,837.8 273.0,835.6 297.5,828.0 302.0,825.7 320.0,813.2 326.0,808.0 341.0,789.0 345.0,781.0 352.0,764.4 355.6,743.0 356.7,719.0 354.7,698.0 351.8,684.0 351.0,675.7 343.4,641.0 344.0,639.5 345.0,639.1 345.0,638.4 339.5,631.0 337.5,625.0 335.4,621.0 335.2,618.0 336.0,616.3 337.0,615.6 344.0,615.7 352.0,613.7 358.0,611.6 370.7,606.0 392.0,595.4 392.0,849.0 66.0,849.0 66.0,564.0ZM208.5,592.0 220.0,591.3 248.0,592.1 251.0,592.7 272.0,603.1 287.0,609.6 306.0,621.6 320.2,634.0 328.9,647.0 332.6,655.0 335.8,664.0 336.9,674.0 339.9,687.0 338.3,705.0 332.9,727.0 323.0,751.3 309.5,773.0 306.0,777.7 301.0,783.0 283.0,799.3 274.0,805.8 260.0,813.5 256.0,815.2 232.0,820.9 227.0,821.6 218.0,821.9 205.0,821.1 198.0,819.5 186.0,814.6 181.3,812.0 168.0,802.0 163.0,796.5 146.9,774.0 135.1,746.0 128.0,712.0 124.2,681.0 125.5,665.0 127.9,651.0 136.9,630.0 145.0,620.3 153.0,611.9 159.3,607.0 162.4,605.0 174.0,599.4 182.0,595.9 186.0,594.8 208.5,592.0ZM216.0,652.0 203.0,655.3 192.2,661.0 184.0,667.4 176.1,677.0 173.8,681.0 171.4,688.0 169.8,696.0 170.1,706.0 173.4,717.0 177.5,724.0 185.4,733.0 190.7,737.0 203.0,743.8 211.0,745.3 218.0,747.6 221.0,748.0 235.0,747.7 251.0,743.5 259.7,739.0 268.0,733.0 273.0,727.6 278.9,719.0 282.2,710.0 283.5,702.0 283.2,693.0 280.7,684.0 277.1,677.0 271.0,669.0 264.0,662.9 256.0,657.9 246.0,653.8 237.0,651.7 222.0,651.1 216.0,652.0Z" fill="#fffe02" fill-rule="evenodd"/>
<path d="M66.0,564.0 166.3,564.0 177.7,575.0 179.0,577.0 178.0,580.8 175.2,584.0 165.0,591.3 158.8,595.0 142.0,608.9 135.7,615.0 120.8,635.0 107.2,659.0 100.3,667.0 97.4,674.0 93.3,691.0 92.5,710.0 93.7,726.0 95.7,739.0 100.9,756.0 102.9,761.0 113.4,778.0 131.0,799.9 147.6,814.0 169.0,826.7 189.0,835.2 201.7,839.0 210.0,840.5 222.0,841.4 231.0,841.2 242.0,840.6 265.0,838.2 274.0,836.2 299.0,828.2 303.1,826.0 320.0,814.1 326.0,809.0 341.1,790.0 345.9,781.0 352.0,767.4 353.0,764.1 356.8,743.0 358.3,720.0 356.5,698.0 355.0,688.0 350.0,663.3 344.2,640.0 345.0,639.6 346.0,637.5 341.8,630.0 340.7,622.0 340.9,620.0 347.0,616.4 362.2,611.0 392.0,596.8 392.0,849.0 66.0,849.0 66.0,564.0ZM208.0,594.0 219.0,593.2 250.0,594.1 285.0,610.9 300.6,621.0 306.0,625.2 315.7,635.0 325.8,649.0 328.9,656.0 332.8,669.0 334.8,678.0 335.4,684.0 335.8,691.0 335.4,702.0 329.2,726.0 321.0,747.9 304.9,774.0 299.4,780.0 285.0,793.0 279.0,797.7 274.0,800.9 254.0,811.7 240.0,815.7 229.0,817.8 216.0,818.3 204.0,817.4 199.0,816.3 190.0,812.3 185.0,809.4 171.0,799.1 167.0,795.4 157.0,783.3 149.6,773.0 140.0,751.0 136.7,741.0 131.7,710.0 129.3,678.0 129.1,663.0 134.0,641.8 142.0,629.4 146.0,622.0 157.0,613.2 164.6,606.0 187.0,597.4 208.0,594.0ZM216.0,649.9 202.0,653.5 191.0,659.2 182.4,666.0 174.1,676.0 170.7,683.0 168.4,690.0 167.6,695.0 167.8,706.0 171.4,718.0 175.5,725.0 184.0,734.5 189.0,738.3 202.0,745.2 211.0,746.9 219.0,749.4 232.0,749.7 237.0,749.3 253.0,745.4 261.8,741.0 270.7,735.0 276.7,729.0 282.3,721.0 285.9,711.0 287.2,702.0 286.6,692.0 284.0,683.0 279.9,675.0 273.8,667.0 266.9,661.0 258.0,655.4 248.0,651.5 238.0,649.4 223.0,649.0 216.0,649.9Z" fill="#fff612" fill-rule="evenodd"/>
<path d="M66.0,564.0 164.9,564.0 170.0,569.0 176.2,577.0 176.1,579.0 173.7,582.0 164.0,590.0 147.2,602.0 132.8,616.0 127.0,623.2 119.6,634.0 113.0,644.5 106.1,657.0 99.0,666.3 95.9,674.0 92.9,686.0 92.0,692.0 91.4,711.0 93.3,731.0 95.1,740.0 100.0,756.0 102.5,762.0 113.0,778.8 131.0,801.4 147.0,815.3 168.1,828.0 189.6,837.0 202.0,840.5 210.5,842.0 222.0,842.8 230.0,842.6 265.0,839.1 274.0,837.0 299.0,829.0 305.9,825.0 321.0,814.1 326.0,809.8 342.0,789.9 352.0,769.4 354.0,763.4 357.7,743.0 359.5,720.0 357.0,690.0 351.0,661.0 345.2,640.0 347.1,637.0 344.0,630.0 343.5,627.0 343.7,623.0 345.2,620.0 348.0,617.4 364.7,611.0 392.0,598.1 392.0,849.0 66.0,849.0 66.0,564.0ZM206.6,596.0 218.0,595.2 249.0,595.9 281.1,611.0 289.3,616.0 299.0,623.0 304.6,628.0 312.4,637.0 320.8,649.0 325.1,658.0 329.5,673.0 331.1,681.0 331.6,691.0 331.2,700.0 325.7,724.0 318.5,745.0 302.4,772.0 297.9,777.0 285.0,789.1 280.0,793.2 274.0,797.1 259.0,805.6 253.0,808.4 240.0,812.4 230.0,814.3 216.0,815.0 205.0,814.1 200.0,813.1 195.0,811.0 189.0,807.7 179.0,801.0 173.0,796.3 160.0,782.7 152.8,772.0 141.8,747.0 140.0,741.0 138.8,734.0 137.3,711.0 138.6,699.0 137.3,691.0 137.1,681.0 134.2,672.0 133.3,666.0 133.9,660.0 136.9,645.0 137.9,642.0 143.7,633.0 148.2,624.0 158.0,616.2 165.1,609.0 187.0,599.7 206.6,596.0ZM225.0,647.0 217.0,647.8 200.0,652.2 189.0,657.9 181.3,664.0 172.4,674.0 168.5,681.0 165.1,692.0 164.8,705.0 166.6,713.0 170.9,723.0 179.3,733.0 186.5,739.0 199.0,745.5 203.0,747.0 219.0,750.7 230.0,751.4 236.0,751.3 251.0,748.5 258.0,746.1 271.2,739.0 279.9,732.0 285.6,725.0 288.7,718.0 291.1,706.0 291.1,696.0 289.0,686.0 284.9,676.0 278.0,666.0 270.4,659.0 261.0,653.1 249.0,648.6 238.0,647.1 225.0,647.0Z" fill="#ffee22" fill-rule="evenodd"/>
<path d="M66.0,564.0 163.5,564.0 168.6,569.0 172.0,575.0 172.7,577.0 172.5,579.0 169.3,583.0 162.8,589.0 144.7,602.0 132.6,614.0 127.0,620.4 113.0,641.1 104.7,656.0 97.7,666.0 94.2,676.0 91.8,686.0 90.8,693.0 90.4,711.0 92.4,731.0 94.2,740.0 99.1,756.0 101.6,762.0 113.0,780.3 127.0,798.5 131.0,802.9 146.0,816.2 167.0,829.0 188.4,838.0 201.0,841.6 210.0,843.2 221.0,844.1 230.0,843.9 265.0,840.0 274.0,837.8 300.0,829.3 306.0,825.9 321.0,814.9 326.0,810.6 329.0,807.4 342.0,790.9 345.0,785.9 351.0,773.2 354.9,763.0 358.5,744.0 360.6,720.0 359.4,699.0 358.0,688.0 352.0,659.9 346.0,639.7 347.0,637.3 348.0,637.0 345.6,630.0 345.5,624.0 346.7,621.0 349.0,618.3 365.0,612.0 392.0,599.4 392.0,849.0 66.0,849.0 66.0,564.0ZM205.5,598.0 217.0,597.1 249.0,598.1 266.0,605.1 281.0,613.0 285.6,616.0 294.9,623.0 300.4,628.0 307.9,637.0 312.8,644.0 318.6,654.0 321.6,661.0 325.1,674.0 326.7,683.0 327.1,691.0 326.5,700.0 322.4,722.0 315.1,744.0 300.1,770.0 284.0,786.4 279.0,790.4 273.0,794.3 259.6,802.0 254.0,804.6 239.0,809.3 230.0,811.1 217.0,811.9 201.0,810.2 193.0,806.4 177.0,796.0 162.9,782.0 158.5,776.0 148.5,755.0 144.1,743.0 142.7,736.0 142.7,728.0 146.2,699.0 143.5,683.0 139.3,671.0 138.5,665.0 141.2,648.0 143.1,642.0 151.5,626.0 167.0,611.6 186.8,602.0 205.5,598.0ZM225.0,644.9 215.0,646.3 203.0,649.2 197.0,651.3 185.0,657.7 176.0,666.0 169.4,673.0 166.5,677.0 161.7,688.0 160.4,694.0 160.0,700.0 160.4,706.0 161.5,711.0 164.1,718.0 166.7,723.0 173.7,731.0 184.2,740.0 199.0,747.2 217.0,751.6 229.0,753.1 238.0,752.8 255.0,749.9 262.7,747.0 277.0,740.0 285.8,733.0 289.9,728.0 293.7,718.0 295.4,705.0 295.1,696.0 293.4,687.0 289.0,675.0 283.0,665.9 277.0,659.2 268.0,652.7 261.0,649.2 249.0,645.4 238.0,644.8 225.0,644.9Z" fill="#ffe832" fill-rule="evenodd"/>
<path d="M66.0,564.0 162.1,564.0 167.9,570.0 170.0,576.0 169.9,578.0 168.5,581.0 161.0,588.6 148.0,597.6 143.0,601.6 127.0,618.0 123.0,623.2 112.0,639.7 104.0,654.0 96.4,666.0 94.1,672.0 92.0,680.0 90.5,687.0 89.7,694.0 89.4,711.0 91.7,732.0 93.1,739.0 97.0,752.2 101.2,763.0 110.4,778.0 114.7,784.0 127.0,800.0 137.0,810.0 143.0,815.3 149.4,820.0 160.8,827.0 170.0,831.9 190.7,840.0 201.9,843.0 210.0,844.4 221.0,845.2 230.0,845.1 264.0,841.0 274.0,838.6 300.0,830.1 307.0,826.0 325.0,812.2 329.2,808.0 342.0,791.8 347.1,783.0 353.0,770.4 355.3,764.0 359.3,744.0 361.6,720.0 360.6,700.0 358.9,686.0 353.0,659.4 346.6,639.0 347.0,637.7 348.0,637.3 349.0,636.0 346.9,629.0 347.2,624.0 348.4,621.0 350.0,619.1 367.4,612.0 392.0,600.8 392.0,849.0 66.0,849.0 66.0,564.0ZM205.1,600.0 215.0,599.1 249.0,600.3 265.0,606.3 282.0,616.0 290.9,623.0 297.2,629.0 309.3,645.0 318.7,665.0 321.1,676.0 322.6,687.0 322.3,701.0 318.6,723.0 311.6,744.0 306.0,754.7 300.0,765.0 297.0,769.0 284.6,782.0 279.0,786.8 257.3,800.0 252.0,802.1 236.0,806.9 221.0,808.9 216.0,808.9 204.0,807.8 198.0,805.9 180.0,795.1 164.0,779.5 161.6,776.0 153.7,760.0 148.0,742.0 147.1,737.0 147.1,733.0 148.0,728.9 150.0,724.9 153.0,721.7 155.0,721.2 157.0,721.9 164.1,728.0 182.0,741.4 190.0,745.4 201.0,749.5 216.0,752.8 229.0,754.9 238.0,754.7 254.0,752.9 261.0,750.9 279.0,743.5 292.5,733.0 295.0,728.0 298.1,718.0 299.4,704.0 299.0,696.0 297.7,688.0 293.0,673.8 283.0,659.2 277.0,653.9 267.0,647.6 250.0,642.3 222.0,643.1 206.0,646.3 198.0,648.5 189.0,652.5 182.0,656.6 156.0,680.6 153.0,681.4 151.0,680.6 149.0,678.9 146.0,674.4 144.1,669.0 143.5,664.0 144.0,657.0 146.9,645.0 150.3,637.0 154.1,630.0 165.9,617.0 171.0,613.2 187.0,604.1 205.1,600.0Z" fill="#ffe342" fill-rule="evenodd"/>
<path d="M66.0,564.0 160.8,564.0 166.7,570.0 167.9,574.0 168.0,577.0 167.4,579.0 165.6,582.0 159.7,588.0 147.9,596.0 142.0,600.7 125.2,618.0 111.0,638.5 95.6,665.0 93.3,671.0 91.0,679.7 88.7,694.0 88.5,711.0 90.8,732.0 92.5,740.0 96.7,754.0 100.9,764.0 109.4,778.0 114.0,784.6 126.6,801.0 136.5,811.0 142.1,816.0 149.0,821.1 160.2,828.0 169.7,833.0 190.3,841.0 201.5,844.0 210.0,845.4 221.0,846.3 231.0,846.1 264.0,841.8 274.0,839.4 301.0,830.4 308.0,826.1 326.0,811.9 330.0,807.8 343.0,791.3 346.0,786.4 351.0,776.1 356.0,763.7 360.0,744.8 362.5,720.0 361.8,701.0 359.8,685.0 354.0,659.4 350.0,646.1 347.0,638.1 349.0,636.2 350.0,636.0 348.2,629.0 348.6,624.0 349.9,621.0 351.0,619.9 392.0,602.1 392.0,849.0 66.0,849.0 66.0,564.0ZM206.0,602.0 215.0,601.3 250.0,603.0 265.0,608.2 281.0,618.0 293.8,630.0 304.0,642.7 306.7,647.0 316.0,669.0 317.4,676.0 318.8,692.0 318.9,701.0 315.0,725.0 305.0,752.3 293.1,769.0 283.0,779.3 278.0,783.5 256.0,797.2 250.0,799.6 235.0,804.0 220.0,806.0 204.0,804.9 198.0,802.9 182.0,793.5 167.7,780.0 164.1,775.0 155.7,758.0 153.3,742.0 153.7,738.0 154.6,736.0 156.0,734.7 158.0,734.1 165.0,735.0 171.0,737.5 183.0,744.9 192.0,748.5 201.0,751.4 226.0,756.4 232.0,757.0 249.0,756.2 260.0,754.6 281.0,746.6 294.0,737.0 296.9,734.0 298.5,730.0 302.5,713.0 302.9,706.0 302.3,693.0 301.4,687.0 296.0,670.9 293.7,667.0 285.0,655.4 279.0,650.2 269.0,644.4 265.0,642.9 252.0,639.6 247.0,639.3 223.0,640.7 199.0,645.6 190.0,648.9 181.7,653.0 168.0,664.7 161.0,669.0 155.0,670.9 153.0,670.6 151.0,669.4 148.9,666.0 147.7,661.0 147.5,656.0 148.7,651.0 156.0,636.4 166.5,622.0 171.7,617.0 187.0,606.7 206.0,602.0Z" fill="#ffdf52" fill-rule="evenodd"/>
<path d="M69.2,565.0 70.3,564.0 159.4,564.0 165.9,571.0 166.5,575.0 166.0,578.0 164.5,581.0 162.1,584.0 157.8,588.0 147.0,595.1 140.9,600.0 128.0,612.8 121.9,620.0 109.0,639.1 95.0,663.9 91.0,675.4 88.9,685.0 87.9,693.0 87.5,711.0 89.7,731.0 91.4,739.0 95.2,752.0 97.6,759.0 100.0,764.1 113.0,784.7 126.0,801.8 135.0,811.0 141.7,817.0 148.5,822.0 159.8,829.0 169.0,833.8 179.0,838.1 190.0,842.0 201.0,844.9 210.0,846.4 221.0,847.3 231.0,847.1 263.0,842.9 274.0,840.3 301.0,831.1 308.0,826.9 326.0,812.6 330.4,808.0 343.0,792.1 346.7,786.0 352.0,775.2 356.8,763.0 361.0,743.0 363.4,720.0 362.6,700.0 360.4,683.0 354.0,656.0 347.7,638.0 349.0,636.5 350.0,636.2 350.7,635.0 349.3,629.0 349.8,624.0 351.1,621.0 392.0,603.5 392.0,849.0 66.0,849.0 66.0,567.9 69.2,565.0ZM211.1,604.0 247.0,605.2 254.0,606.7 264.0,610.2 273.7,616.0 279.1,620.0 287.2,628.0 295.0,638.0 303.0,647.0 304.8,651.0 307.4,661.0 313.2,672.0 313.9,677.0 313.0,687.0 315.5,696.0 315.8,700.0 314.0,706.1 310.0,711.6 309.0,710.6 307.0,706.0 305.8,701.0 305.8,697.0 306.9,690.0 306.6,687.0 302.3,678.0 299.7,668.0 298.2,665.0 288.0,652.4 284.0,648.3 277.0,643.6 268.5,640.0 255.0,637.0 248.0,636.4 223.0,638.1 205.0,641.1 193.0,644.3 180.0,649.4 175.0,652.7 166.9,660.0 162.0,663.0 157.0,664.1 155.0,663.6 153.0,662.1 151.6,660.0 150.6,657.0 150.6,655.0 151.7,652.0 155.0,647.0 162.3,638.0 168.5,627.0 173.2,621.0 182.8,613.0 189.0,609.1 204.0,605.1 211.1,604.0ZM308.5,714.0 309.0,713.3 310.0,713.1 311.0,715.0 312.6,720.0 312.6,724.0 311.7,727.0 310.0,729.8 307.0,732.7 305.0,733.7 304.0,733.3 303.2,731.0 302.9,725.0 305.0,719.1 308.5,714.0ZM302.5,737.0 304.0,738.0 304.9,742.0 304.7,747.0 303.7,751.0 296.6,759.0 289.0,769.0 285.0,773.0 277.0,779.4 266.0,785.7 254.0,794.5 242.0,799.0 229.0,802.1 217.0,803.2 204.0,802.1 197.0,799.6 186.0,793.4 181.0,789.6 169.9,779.0 159.4,761.0 158.2,757.0 158.2,750.0 159.5,745.0 162.0,742.2 166.0,741.3 171.0,742.4 183.0,748.1 192.0,751.3 200.0,753.4 226.0,758.6 234.0,759.3 257.0,758.9 266.0,756.7 280.0,751.5 285.0,748.6 294.0,741.4 302.5,737.0Z" fill="#ffdc63" fill-rule="evenodd"/>
<path d="M77.7,565.0 78.8,564.0 158.0,564.0 164.9,571.0 165.1,575.0 164.4,578.0 160.5,584.0 157.0,587.1 146.6,594.0 140.0,599.2 128.0,611.1 121.0,619.1 108.0,638.3 94.3,663.0 92.0,668.6 90.0,675.6 88.0,685.0 87.0,693.0 86.7,711.0 88.9,731.0 90.5,739.0 94.6,753.0 97.0,759.7 99.6,765.0 112.1,785.0 125.0,802.0 133.6,811.0 140.2,817.0 147.0,822.2 157.8,829.0 167.1,834.0 178.6,839.0 189.0,842.7 200.0,845.6 209.0,847.2 221.0,848.2 231.0,848.0 262.0,843.9 274.0,841.1 301.0,831.7 308.9,827.0 326.0,813.2 331.0,808.0 343.0,792.8 349.0,782.7 355.0,770.0 357.1,764.0 361.5,744.0 364.2,720.0 363.5,699.0 361.2,682.0 355.0,656.5 348.4,638.0 349.0,636.7 351.6,635.0 350.4,629.0 350.9,624.0 352.0,621.8 392.0,604.9 392.0,849.0 66.0,849.0 66.0,575.8 77.7,565.0ZM207.0,608.0 221.0,607.3 247.0,608.2 252.0,609.0 258.3,611.0 266.7,615.0 274.8,621.0 278.5,625.0 283.0,631.0 284.0,633.0 284.4,636.0 284.0,637.1 282.0,637.8 266.0,634.9 253.0,633.5 230.0,634.4 204.0,637.5 181.0,642.8 177.0,643.2 174.0,642.6 173.0,641.8 172.3,640.0 172.7,633.0 174.9,627.0 179.3,621.0 184.8,616.0 190.0,612.7 195.0,610.9 207.0,608.0ZM296.0,648.0 298.0,648.6 299.5,650.0 299.8,651.0 299.0,652.9 297.0,652.9 295.3,651.0 294.8,649.0 296.0,648.0ZM296.2,745.0 299.0,744.3 300.6,745.0 301.8,747.0 301.8,750.0 300.0,751.9 291.8,757.0 289.4,760.0 285.5,767.0 283.5,769.0 277.0,773.1 264.0,780.0 256.5,788.0 250.0,792.4 237.0,797.2 223.0,799.7 212.0,800.2 203.0,799.1 195.0,796.1 187.0,791.2 181.8,787.0 172.5,778.0 166.3,766.0 162.4,760.0 161.8,758.0 162.1,754.0 164.0,750.0 167.0,748.1 170.0,747.8 174.0,748.7 184.0,752.6 191.0,754.6 217.0,759.2 227.0,761.5 250.0,763.3 261.0,763.3 269.0,761.5 285.0,755.3 288.0,753.3 293.5,747.0 296.2,745.0Z" fill="#ffdb73" fill-rule="evenodd"/>
<path d="M86.0,565.0 87.1,564.0 156.6,564.0 163.6,571.0 164.0,572.0 163.0,578.0 159.0,583.9 155.4,587.0 144.7,594.0 138.6,599.0 126.0,611.5 119.0,619.7 105.0,641.0 95.0,659.4 91.3,668.0 88.5,678.0 86.5,689.0 85.7,700.0 85.9,712.0 87.5,727.0 89.2,737.0 94.0,753.7 97.2,762.0 108.3,781.0 123.0,801.0 134.4,813.0 145.2,822.0 163.0,833.0 181.2,841.0 190.2,844.0 201.0,846.8 218.4,849.0 66.0,849.0 66.0,583.9 86.0,565.0ZM390.6,607.0 392.0,606.4 392.0,849.0 230.0,849.0 241.0,847.9 268.0,843.5 276.0,841.2 303.0,831.5 310.0,826.9 327.0,812.8 332.0,807.4 345.0,790.7 354.0,773.4 358.2,762.0 362.3,743.0 365.0,719.0 364.3,699.0 362.0,681.7 356.0,657.1 349.0,637.8 349.0,636.9 352.1,635.0 351.3,629.0 351.6,625.0 353.0,622.5 390.6,607.0ZM213.4,612.0 228.0,611.3 250.0,612.2 255.0,614.0 264.3,619.0 268.2,623.0 269.0,626.0 267.1,628.0 262.0,629.1 203.0,632.3 190.0,634.3 186.0,634.1 184.0,633.2 182.9,632.0 182.3,630.0 182.4,628.0 184.1,624.0 188.0,619.7 193.0,616.7 201.0,614.0 213.4,612.0ZM171.0,757.0 175.0,756.6 188.0,759.8 216.4,763.0 251.0,769.4 255.0,770.8 256.7,772.0 257.8,774.0 257.7,777.0 256.2,781.0 253.0,785.0 247.7,789.0 241.0,792.2 232.0,794.8 225.0,796.1 211.0,797.1 203.0,796.0 196.0,793.7 189.9,790.0 182.7,784.0 177.1,778.0 174.7,774.0 170.1,761.0 169.9,759.0 171.0,757.0Z" fill="#ffdb83" fill-rule="evenodd"/>
<path d="M94.1,565.0 95.3,564.0 155.1,564.0 163.0,572.0 161.8,578.0 158.4,583.0 155.0,586.0 145.7,592.0 138.0,598.1 125.9,610.0 118.1,619.0 105.0,638.7 94.1,659.0 91.0,666.1 88.1,676.0 85.9,687.0 85.0,698.0 84.9,710.0 86.3,724.0 88.0,735.1 92.0,750.0 95.4,760.0 98.9,767.0 106.6,780.0 121.0,799.8 130.0,810.0 141.0,820.0 148.0,825.1 157.5,831.0 173.7,839.0 191.0,845.1 200.0,847.4 209.2,849.0 66.0,849.0 66.0,592.2 80.9,577.0 94.1,565.0ZM391.9,608.0 392.0,849.0 239.2,849.0 261.0,845.7 270.0,843.8 304.0,831.7 312.0,826.0 328.0,812.4 336.0,803.0 346.0,790.0 355.0,772.3 359.1,761.0 363.3,741.0 365.0,728.0 365.8,717.0 364.9,697.0 362.5,680.0 356.7,657.0 349.4,637.0 353.0,634.0 352.2,628.0 353.0,623.7 364.0,618.9 391.9,608.0ZM223.0,617.0 228.0,616.6 244.0,617.1 248.0,618.4 249.6,620.0 249.9,621.0 249.6,622.0 248.0,623.4 242.0,625.1 225.0,625.7 215.0,624.9 207.0,626.4 204.0,626.2 201.0,625.0 199.9,623.0 200.9,621.0 203.0,619.5 206.0,618.6 216.0,618.8 223.0,617.0ZM189.6,769.0 218.0,769.6 231.0,771.0 237.0,772.7 242.0,775.0 245.7,778.0 246.3,780.0 244.9,783.0 241.7,786.0 238.0,788.0 232.0,790.0 226.0,791.3 212.0,792.8 203.0,792.1 197.0,790.3 193.2,788.0 187.5,783.0 184.0,778.6 182.6,775.0 183.0,771.7 185.0,770.0 189.6,769.0Z" fill="#ffdb93" fill-rule="evenodd"/>
<path d="M102.0,565.0 103.2,564.0 153.6,564.0 161.8,572.0 162.0,573.0 160.6,578.0 156.9,583.0 144.0,592.0 137.0,597.6 125.3,609.0 118.0,617.4 111.0,627.2 104.0,638.3 94.0,657.1 90.5,665.0 87.7,674.0 85.3,686.0 84.2,697.0 84.1,708.0 85.0,720.3 87.0,734.0 93.5,757.0 99.0,768.8 105.7,780.0 111.0,787.8 124.1,805.0 138.5,819.0 152.5,829.0 169.0,837.9 187.0,844.8 203.9,849.0 66.0,849.0 66.0,600.7 86.4,579.0 102.0,565.0ZM391.0,610.0 392.0,609.7 392.0,849.0 245.3,849.0 262.0,846.3 272.0,844.0 300.0,834.1 305.0,831.8 313.0,825.9 328.9,812.0 342.0,796.1 347.0,789.1 356.0,771.2 360.0,759.5 364.2,739.0 366.0,725.0 366.5,716.0 365.6,696.0 363.0,678.8 357.0,655.5 350.0,637.0 351.0,635.6 352.0,635.4 353.6,633.0 353.1,628.0 354.0,624.4 366.6,619.0 391.0,610.0Z" fill="#ffdda3" fill-rule="evenodd"/>
<path d="M109.8,565.0 111.2,564.0 151.9,564.0 161.1,573.0 159.4,578.0 156.0,582.5 143.0,591.5 136.2,597.0 124.9,608.0 117.0,617.0 109.9,627.0 103.0,638.0 94.0,655.1 90.0,664.0 87.0,673.6 84.7,685.0 83.6,695.0 83.2,706.0 83.9,717.0 85.7,731.0 87.6,740.0 91.3,753.0 96.6,766.0 108.0,785.0 123.0,805.0 136.0,818.0 149.4,828.0 165.2,837.0 182.1,844.0 199.9,849.0 66.0,849.0 66.0,609.3 90.6,582.0 100.1,573.0 109.8,565.0ZM390.4,612.0 392.0,611.0 392.0,849.0 250.8,849.0 264.0,846.8 274.0,844.2 300.0,834.7 306.0,831.8 314.0,825.7 329.0,812.5 342.0,796.7 348.0,788.2 357.0,770.0 360.9,758.0 365.0,738.0 366.5,726.0 367.1,716.0 366.4,697.0 364.0,680.0 358.0,656.4 350.6,637.0 351.0,635.8 352.0,635.5 354.4,633.0 353.9,627.0 354.1,626.0 355.0,625.2 367.1,620.0 390.4,612.0Z" fill="#ffe0b2" fill-rule="evenodd"/>
<path d="M117.7,565.0 119.1,564.0 150.0,564.0 159.0,572.1 159.9,573.0 160.0,574.0 158.3,578.0 155.2,582.0 143.0,590.4 135.9,596.0 125.0,606.5 117.0,615.5 110.0,625.0 103.0,636.0 90.7,660.0 87.5,669.0 85.0,679.0 83.4,689.0 82.6,699.0 82.6,710.0 83.6,722.0 85.2,733.0 87.6,743.0 93.4,761.0 102.0,777.1 108.0,786.4 118.0,800.1 123.7,807.0 130.0,813.5 143.6,825.0 160.0,835.2 177.1,843.0 196.4,849.0 77.1,849.0 72.1,835.0 66.0,821.2 66.0,618.2 83.7,597.0 95.6,584.0 106.2,574.0 117.7,565.0ZM391.1,612.0 392.0,611.1 392.0,849.0 256.0,849.0 267.0,846.9 276.0,844.3 301.0,834.9 307.0,831.8 322.0,819.4 330.0,812.0 343.8,795.0 349.0,787.2 357.5,770.0 361.7,757.0 366.0,735.3 367.8,715.0 366.9,695.0 364.1,677.0 358.2,655.0 351.0,636.0 352.0,635.7 354.0,633.2 355.0,633.0 354.6,629.0 355.0,626.5 366.0,621.7 386.0,615.0 391.1,612.0Z" fill="#ffe0b2" fill-rule="evenodd"/>
<path d="M125.6,565.0 127.2,564.0 147.8,564.0 156.0,570.7 159.1,574.0 157.3,578.0 154.0,581.9 143.0,589.3 135.7,595.0 125.2,605.0 117.0,614.0 110.0,623.4 103.0,634.1 91.0,657.4 87.6,666.0 85.1,675.0 83.0,686.0 82.0,696.0 81.8,706.0 82.3,716.0 83.8,729.0 85.8,739.0 91.8,759.0 99.0,773.5 105.0,783.4 113.9,796.0 120.1,804.0 126.4,811.0 140.0,823.2 156.3,834.0 165.8,839.0 175.0,843.0 193.4,849.0 89.6,849.0 80.3,827.0 66.0,801.0 66.0,627.4 86.1,602.0 100.0,586.3 112.1,575.0 125.6,565.0ZM391.1,612.0 392.0,611.2 392.0,849.0 260.4,849.0 270.0,846.9 278.0,844.3 302.0,835.1 308.0,831.8 323.0,819.1 330.4,812.0 344.3,795.0 350.0,786.2 358.0,769.8 362.4,756.0 366.9,733.0 368.4,714.0 367.6,695.0 365.0,678.0 359.0,655.4 351.4,636.0 355.7,632.0 355.4,629.0 356.0,627.3 366.0,623.0 379.0,619.0 382.0,617.0 383.0,617.0 385.0,615.1 388.0,614.1 389.0,613.1 390.0,613.1 391.1,612.0Z" fill="#ffe0b2" fill-rule="evenodd"/>
</g>
<g clip-path="url(#disc)" fill="none" stroke="#101010" stroke-width="0.8">
<path d="M223.0,687.8 220.6,689.0 218.2,691.0 215.4,695.0 214.5,699.0 215.0,704.0 217.3,708.0 219.3,710.0 222.0,711.8 226.0,712.7 232.0,712.2 236.0,709.7 239.1,706.0 240.5,701.0 239.9,696.0 237.7,692.0 233.0,688.3 231.0,687.5 228.0,687.2 223.0,687.8"/>
<path d="M234.2,564.0 238.0,567.0 241.0,568.3 250.0,570.7 257.0,569.9 261.0,570.3 270.0,574.8 280.0,576.7 288.4,576.0 311.0,571.7 321.0,570.9 334.0,572.0 360.0,577.8 378.0,580.4 383.0,579.6 392.0,575.7M222.0,678.9 215.9,680.0 209.8,682.0 205.0,684.6 201.0,688.0 198.0,692.0 196.5,696.0 196.0,700.0 197.1,705.0 199.3,709.0 203.1,713.0 207.6,716.0 213.0,718.2 220.0,719.9 225.0,720.3 234.0,719.0 238.0,717.8 245.9,713.0 250.4,708.0 251.9,705.0 252.9,701.0 252.9,698.0 251.9,694.0 250.4,691.0 248.0,687.9 244.6,685.0 240.0,682.2 233.0,679.9 227.0,678.9 222.0,678.9"/>
<path d="M200.2,564.0 210.0,567.2 220.0,571.5 232.0,574.4 249.0,577.1 257.0,577.8 271.0,580.3 299.0,590.3 313.0,591.9 324.0,594.5 339.0,595.5 355.0,600.3 359.0,599.9 367.0,597.0 377.5,592.0 392.0,584.3M223.0,670.0 215.0,670.8 207.0,672.9 201.0,675.6 195.0,679.7 190.7,684.0 187.5,689.0 185.7,694.0 185.0,700.0 185.9,706.0 188.7,712.0 192.0,716.5 197.0,720.8 203.0,724.5 209.0,726.7 217.0,728.5 224.0,729.0 232.0,728.2 240.0,726.4 246.0,723.8 252.0,720.0 257.0,715.3 260.4,710.0 262.3,705.0 263.0,699.0 262.0,693.0 259.9,688.0 256.0,682.6 251.0,678.2 245.0,674.6 239.0,672.3 231.0,670.6 223.0,670.0"/>
<path d="M175.4,564.0 179.3,566.0 182.0,568.7 183.5,572.0 184.0,577.0 185.0,578.7 187.0,580.3 200.0,582.4 223.0,583.7 246.0,586.1 254.0,587.4 289.0,599.9 308.0,610.5 317.0,616.4 322.0,618.4 324.0,618.2 325.0,617.6 331.9,610.0 335.0,608.1 337.0,607.5 340.0,607.5 346.0,609.4 348.0,609.6 354.0,608.7 367.6,603.0 392.0,590.5M221.0,660.0 211.0,661.6 203.0,664.0 195.0,668.3 188.0,673.5 183.0,679.4 179.0,685.8 177.0,693.0 176.0,700.0 177.4,708.0 179.4,714.0 185.0,722.2 190.0,727.3 197.0,731.9 206.0,736.3 220.0,739.3 225.0,739.5 237.0,737.7 244.0,735.8 253.0,731.5 260.0,726.4 265.9,720.0 270.1,713.0 272.3,706.0 273.0,698.0 271.6,690.0 268.6,683.0 263.5,676.0 257.0,670.2 249.0,665.4 240.0,662.1 230.0,660.2 221.0,660.0M106.0,684.7 105.0,685.3 104.0,686.9 101.0,696.1 98.6,714.0 98.3,723.0 99.6,737.0 102.2,746.0 107.6,761.0 116.4,775.0 126.0,787.4 133.0,793.9 138.0,797.6 142.0,799.1 144.7,799.0 145.6,798.0 146.2,796.0 145.3,791.0 133.1,768.0 123.7,745.0 118.3,721.0 114.0,699.3 112.0,692.3 109.0,686.0 108.0,685.0 106.0,684.7M345.0,741.9 342.9,743.0 340.0,746.8 339.0,751.0 336.0,755.3 325.7,774.0 317.2,785.0 303.8,801.0 295.3,808.0 278.0,821.0 264.0,827.3 249.0,829.2 242.0,829.1 240.0,830.0 239.5,831.0 240.0,832.5 242.3,834.0 246.0,835.0 250.0,834.3 262.0,833.8 270.0,832.8 286.2,829.0 294.0,826.4 296.7,825.0 303.0,819.9 317.1,810.0 323.0,804.0 325.0,800.4 336.3,786.0 337.3,784.0 338.3,780.0 343.8,769.0 345.7,762.0 345.4,757.0 345.7,750.0 347.4,747.0 348.1,744.0 347.7,742.0 347.0,741.6 345.0,741.9"/>
<path d="M167.2,564.0 178.0,573.9 179.6,576.0 180.0,577.0 179.8,579.0 178.2,583.0 175.0,586.2 165.0,592.6 159.0,595.8 147.0,606.4 141.0,611.0 136.9,615.0 132.0,622.4 122.0,635.0 108.0,660.0 102.1,666.0 99.4,671.0 95.0,686.0 93.8,695.0 93.2,712.0 95.1,733.0 96.2,739.0 98.9,748.0 101.8,757.0 104.0,762.0 114.0,777.9 123.0,789.6 132.0,800.0 148.0,813.1 170.0,826.0 188.5,834.0 201.8,838.0 208.0,839.3 225.0,840.4 242.0,839.9 261.0,838.2 273.0,835.9 298.0,828.1 302.2,826.0 319.3,814.0 326.0,808.4 341.0,789.5 345.0,781.8 351.2,768.0 352.5,764.0 356.0,744.0 357.4,719.0 355.5,698.0 351.8,676.0 343.9,641.0 343.8,640.0 345.0,639.3 345.4,638.0 340.7,631.0 339.3,625.0 336.8,620.0 336.6,618.0 337.0,617.0 338.0,616.7 344.0,616.5 358.0,612.1 371.7,606.0 392.0,596.0M206.7,593.0 219.0,592.1 250.0,593.0 272.0,603.9 286.0,610.1 304.7,622.0 318.0,634.0 327.9,648.0 331.1,655.0 334.8,667.0 338.2,687.0 337.5,702.0 331.7,726.0 322.7,749.0 319.3,755.0 305.8,776.0 301.0,781.1 285.0,795.6 280.0,799.7 274.0,803.6 259.0,812.0 255.0,813.8 229.0,819.9 217.0,820.5 202.0,819.3 198.0,818.1 186.0,812.9 180.0,808.9 167.0,798.8 152.0,779.3 147.1,772.0 138.0,750.6 135.4,743.0 129.4,712.0 126.1,681.0 126.8,664.0 128.6,654.0 132.4,642.0 138.4,631.0 145.2,621.0 161.0,607.0 164.0,604.9 185.0,596.3 190.0,595.3 206.7,593.0M217.0,650.9 203.0,654.5 193.0,659.5 188.0,662.8 184.0,666.2 175.7,676.0 172.1,683.0 169.9,690.0 169.0,695.0 169.3,706.0 172.5,717.0 176.4,724.0 181.3,730.0 185.0,733.8 190.0,737.5 203.0,744.5 211.0,746.0 219.0,748.5 233.0,748.6 237.0,748.2 252.0,744.2 261.0,739.5 269.0,733.8 274.5,728.0 278.2,723.0 280.6,719.0 283.7,710.0 285.0,702.0 284.6,693.0 282.1,684.0 278.1,676.0 272.0,668.1 265.0,662.1 257.0,657.1 247.0,653.0 238.0,650.9 224.0,650.3 217.0,650.9"/>
<path d="M161.6,564.0 167.0,569.4 168.2,572.0 169.2,577.0 167.5,581.0 160.9,588.0 147.8,597.0 142.9,601.0 126.0,618.3 122.0,623.6 111.0,640.2 103.3,654.0 97.4,663.0 95.0,668.0 93.0,674.0 90.7,684.0 89.2,696.0 89.1,712.0 91.3,732.0 92.7,739.0 96.3,751.0 98.6,758.0 100.9,763.0 112.7,782.0 126.0,799.4 131.0,804.9 139.6,813.0 145.8,818.0 154.9,824.0 165.2,830.0 176.0,835.0 186.3,839.0 196.0,842.0 206.0,844.2 218.0,845.5 228.0,845.6 238.0,844.8 262.0,841.6 273.0,839.3 300.0,830.3 306.1,827.0 325.0,812.4 329.4,808.0 342.0,792.1 344.7,788.0 348.0,781.7 353.8,769.0 355.8,763.0 359.8,743.0 362.0,720.0 361.0,699.2 359.0,684.0 353.0,657.9 346.9,639.0 347.0,637.8 348.0,637.5 349.4,636.0 347.5,629.0 347.8,624.0 350.0,619.7 368.4,612.0 392.0,601.3M210.1,600.0 226.0,600.2 250.0,601.5 265.0,607.0 279.0,614.9 284.5,619.0 291.5,625.0 296.5,630.0 305.1,641.0 308.9,647.0 316.0,662.3 317.7,667.0 319.7,677.0 321.1,690.0 320.9,701.0 318.3,718.0 317.0,724.0 310.6,743.0 306.0,753.0 299.0,764.3 295.4,769.0 283.9,781.0 278.1,786.0 256.7,799.0 251.0,801.2 235.0,805.9 219.0,807.8 203.0,806.5 197.0,804.1 180.2,794.0 164.9,779.0 162.8,776.0 155.3,761.0 153.2,755.0 149.9,742.0 149.3,738.0 149.5,733.0 151.0,729.9 154.0,727.7 156.0,727.5 158.0,728.0 169.0,733.5 184.0,743.6 191.0,746.7 201.0,750.2 229.0,755.7 239.0,755.4 255.0,753.8 262.0,751.9 280.0,744.7 294.0,734.0 296.0,730.0 299.3,719.0 300.9,703.0 300.2,694.0 299.3,688.0 294.4,673.0 292.8,670.0 285.1,659.0 278.6,653.0 268.0,646.4 264.6,645.0 251.0,641.2 247.0,641.0 222.0,642.2 215.0,643.4 199.0,647.2 190.0,650.8 182.0,655.1 169.0,666.8 158.0,674.7 155.0,676.1 153.0,676.4 151.0,676.0 149.0,674.5 147.0,671.0 145.8,667.0 145.4,662.0 145.7,655.0 147.6,648.0 150.8,640.0 154.0,633.8 157.3,629.0 168.0,617.0 185.1,606.0 190.0,604.2 210.1,600.0"/>
<path d="M156.0,564.0 163.1,571.0 163.6,572.0 163.2,576.0 161.5,580.0 159.2,583.0 156.0,586.0 145.4,593.0 137.9,599.0 127.0,609.8 121.0,616.5 114.0,626.0 106.0,638.4 95.0,658.5 92.0,665.0 89.6,672.0 87.5,681.0 86.2,689.0 85.5,697.0 85.7,714.0 88.5,735.0 90.5,743.0 95.1,758.0 98.0,764.4 103.0,773.0 109.9,784.0 122.6,801.0 128.0,807.2 136.0,815.0 143.2,821.0 151.9,827.0 162.2,833.0 172.0,837.7 182.9,842.0 193.0,845.2 204.0,847.7 213.8,849.0M66.0,587.2 79.3,574.0 90.4,564.0M217.0,614.0 228.0,613.1 249.0,613.9 253.0,615.5 259.5,620.0 261.5,622.0 262.0,624.0 260.0,625.7 255.5,627.0 244.0,628.3 207.0,630.0 190.0,630.0 187.9,629.0 187.2,628.0 187.2,626.0 189.0,623.0 192.5,620.0 204.0,615.5 217.0,614.0M179.7,763.0 212.0,764.7 234.1,768.0 241.9,770.0 251.0,773.1 253.0,774.6 253.9,776.0 254.3,779.0 253.4,781.0 252.0,782.8 247.1,787.0 242.0,790.0 237.0,791.8 225.0,794.5 211.0,795.7 204.0,794.9 197.5,793.0 193.5,791.0 186.9,786.0 180.1,779.0 177.1,774.0 176.0,768.0 176.1,766.0 176.9,764.0 178.0,763.3 179.7,763.0M234.6,849.0 260.0,845.4 269.0,843.6 277.0,841.2 304.0,831.3 312.0,825.6 328.0,812.1 333.0,806.4 345.0,791.0 349.0,784.1 354.0,773.8 358.2,763.0 362.6,743.0 365.2,720.0 365.3,711.0 364.6,699.0 362.2,681.0 356.0,656.1 353.0,647.0 349.0,637.1 350.0,636.7 351.0,635.3 352.0,635.1 352.6,634.0 351.7,629.0 352.3,624.0 353.0,623.0 359.0,620.3 392.0,607.0"/>
</g>
<g clip-path="url(#disc)">
<g transform="translate(205.7,583) rotate(0)"><rect x="-12.8" y="-4" width="25.5" height="8" fill="#4dff00"/><text x="0" y="3.4" text-anchor="middle" class="cl">-0.05</text></g>
<g transform="translate(289,588.5) rotate(17)"><rect x="-10.3" y="-4" width="20.6" height="8" fill="#00ff4d"/><text x="0" y="3.4" text-anchor="middle" class="cl">-0.1</text></g>
<g transform="translate(223,600) rotate(0)"><rect x="-10.3" y="-4" width="20.6" height="8" fill="#ffe341"/><text x="0" y="3.4" text-anchor="middle" class="cl">0.05</text></g>
<g transform="translate(225,628.6) rotate(0)"><rect x="-7.9" y="-4" width="15.7" height="8" fill="#ffdb81"/><text x="0" y="3.4" text-anchor="middle" class="cl">0.1</text></g>
<g transform="translate(228,650.3) rotate(0)"><rect x="-3.0" y="-4" width="5.9" height="8" fill="#ffff00"/><text x="0" y="3.4" text-anchor="middle" class="cl">0</text></g>
<g transform="translate(229,670) rotate(0)"><rect x="-10.3" y="-4" width="20.6" height="8" fill="#00ff4d"/><text x="0" y="3.4" text-anchor="middle" class="cl">-0.1</text></g>
<g transform="translate(227,720) rotate(0)"><rect x="-12.8" y="-4" width="25.5" height="8" fill="#0057ff"/><text x="0" y="3.4" text-anchor="middle" class="cl">-0.15</text></g>
<g transform="translate(228,739.3) rotate(0)"><rect x="-12.8" y="-4" width="25.5" height="8" fill="#4dff00"/><text x="0" y="3.4" text-anchor="middle" class="cl">-0.05</text></g>
<g transform="translate(212,795.5) rotate(0)"><rect x="-7.9" y="-4" width="15.7" height="8" fill="#ffdb81"/><text x="0" y="3.4" text-anchor="middle" class="cl">0.1</text></g>
<g transform="translate(219,820) rotate(0)"><rect x="-3.0" y="-4" width="5.9" height="8" fill="#ffff00"/><text x="0" y="3.4" text-anchor="middle" class="cl">0</text></g>
<g transform="translate(252,833) rotate(-3)"><rect x="-12.8" y="-4" width="25.5" height="8" fill="#4dff00"/><text x="0" y="3.4" text-anchor="middle" class="cl">-0.05</text></g>
<g transform="translate(199,839.5) rotate(8)"><rect x="-10.3" y="-4" width="20.6" height="8" fill="#ffe341"/><text x="0" y="3.4" text-anchor="middle" class="cl">0.05</text></g>
<g transform="translate(221.5,840.6) rotate(0)"><rect x="-3.0" y="-4" width="5.9" height="8" fill="#ffff00"/><text x="0" y="3.4" text-anchor="middle" class="cl">0</text></g>
<g transform="translate(119.5,622.5) rotate(-55)"><rect x="-10.3" y="-4" width="20.6" height="8" fill="#ffe341"/><text x="0" y="3.4" text-anchor="middle" class="cl">0.05</text></g>
<g transform="translate(134,788) rotate(50)"><rect x="-12.8" y="-4" width="25.5" height="8" fill="#4dff00"/><text x="0" y="3.4" text-anchor="middle" class="cl">-0.05</text></g>
<g transform="translate(337,791) rotate(-52)"><rect x="-10.3" y="-4" width="20.6" height="8" fill="#ffe341"/><text x="0" y="3.4" text-anchor="middle" class="cl">0.05</text></g>
<g transform="translate(361.5,742) rotate(-78)"><rect x="-7.9" y="-4" width="15.7" height="8" fill="#ffdb81"/><text x="0" y="3.4" text-anchor="middle" class="cl">0.1</text></g>
</g>
<rect x="66.5" y="566.5" width="325" height="280" fill="none" stroke="#111" stroke-width="1"/>
<line x1="88.3" y1="846.5" x2="88.3" y2="855.5" stroke="#111"/>
<line x1="66.5" y1="846.5" x2="57.5" y2="846.5" stroke="#111"/>
<text x="88.3" y="881" text-anchor="middle" class="ax">-1.0</text>
<text transform="translate(46.5,846.5) rotate(-90)" text-anchor="middle" class="ax">-1.0</text>
<line x1="158.3" y1="846.5" x2="158.3" y2="855.5" stroke="#111"/>
<line x1="66.5" y1="776.5" x2="57.5" y2="776.5" stroke="#111"/>
<text x="158.3" y="881" text-anchor="middle" class="ax">-0.5</text>
<text transform="translate(46.5,776.5) rotate(-90)" text-anchor="middle" class="ax">-0.5</text>
<line x1="228.3" y1="846.5" x2="228.3" y2="855.5" stroke="#111"/>
<line x1="66.5" y1="706.5" x2="57.5" y2="706.5" stroke="#111"/>
<text x="228.3" y="881" text-anchor="middle" class="ax">0.0</text>
<text transform="translate(46.5,706.5) rotate(-90)" text-anchor="middle" class="ax">0.0</text>
<line x1="298.3" y1="846.5" x2="298.3" y2="855.5" stroke="#111"/>
<line x1="66.5" y1="636.5" x2="57.5" y2="636.5" stroke="#111"/>
<text x="298.3" y="881" text-anchor="middle" class="ax">0.5</text>
<text transform="translate(46.5,636.5) rotate(-90)" text-anchor="middle" class="ax">0.5</text>
<line x1="368.3" y1="846.5" x2="368.3" y2="855.5" stroke="#111"/>
<line x1="66.5" y1="566.5" x2="57.5" y2="566.5" stroke="#111"/>
<text x="368.3" y="881" text-anchor="middle" class="ax">1.0</text>
<text transform="translate(46.5,566.5) rotate(-90)" text-anchor="middle" class="ax">1.0</text>
<text x="227" y="538" text-anchor="middle" style="font:bold 19.3px 'Liberation Sans',sans-serif;fill:#111">Wavefront map of 245/1245</text>
</svg>
<svg style="position:absolute;left:420px;top:510px" width="180" height="370" viewBox="420 510 180 370"><defs><radialGradient id="s1" gradientUnits="userSpaceOnUse" cx="493.8" cy="577" r="52"><stop offset="0.0000" stop-color="#ffffff"/><stop offset="0.0250" stop-color="#ffffff"/><stop offset="0.0462" stop-color="#3d3d3d"/><stop offset="0.0692" stop-color="#848484"/><stop offset="0.0923" stop-color="#3d3d3d"/><stop offset="0.1154" stop-color="#767676"/><stop offset="0.1385" stop-color="#3f3f3f"/><stop offset="0.1615" stop-color="#6e6e6e"/><stop offset="0.1846" stop-color="#414141"/><stop offset="0.2077" stop-color="#676767"/><stop offset="0.2308" stop-color="#424242"/><stop offset="0.2538" stop-color="#626262"/><stop offset="0.2769" stop-color="#464646"/><stop offset="0.3000" stop-color="#5f5f5f"/><stop offset="0.3231" stop-color="#494949"/><stop offset="0.3462" stop-color="#585858"/><stop offset="0.3750" stop-color="#3d3d3d"/><stop offset="0.4038" stop-color="#2d2d2d"/><stop offset="0.4327" stop-color="#3d3d3d"/><stop offset="0.4615" stop-color="#626262"/><stop offset="0.5000" stop-color="#727272"/><stop offset="0.5385" stop-color="#6e6e6e"/><stop offset="0.5769" stop-color="#626262"/><stop offset="0.6346" stop-color="#4d4d4d"/><stop offset="0.6923" stop-color="#363636"/><stop offset="0.7500" stop-color="#232323"/><stop offset="0.8077" stop-color="#151515"/><stop offset="0.8846" stop-color="#080808"/><stop offset="1.0000" stop-color="#000000"/></radialGradient><radialGradient id="s2" gradientUnits="userSpaceOnUse" cx="493.4" cy="693.5" r="34"><stop offset="0.0000" stop-color="#ffffff"/><stop offset="0.0529" stop-color="#ffffff"/><stop offset="0.0941" stop-color="#969696"/><stop offset="0.1324" stop-color="#1c1c1c"/><stop offset="0.1618" stop-color="#0c0c0c"/><stop offset="0.2059" stop-color="#282828"/><stop offset="0.2500" stop-color="#0e0e0e"/><stop offset="0.3088" stop-color="#1e1e1e"/><stop offset="0.3676" stop-color="#0a0a0a"/><stop offset="0.4265" stop-color="#161616"/><stop offset="0.5000" stop-color="#070707"/><stop offset="0.5735" stop-color="#0e0e0e"/><stop offset="0.6471" stop-color="#040404"/><stop offset="0.7353" stop-color="#080808"/><stop offset="0.8235" stop-color="#020202"/><stop offset="1.0000" stop-color="#000000"/></radialGradient><radialGradient id="s3" gradientUnits="userSpaceOnUse" cx="505" cy="810" r="62"><stop offset="0.0000" stop-color="#aaaaaa"/><stop offset="0.0290" stop-color="#a5a5a5"/><stop offset="0.0484" stop-color="#3c3c3c"/><stop offset="0.0677" stop-color="#6e6e6e"/><stop offset="0.0871" stop-color="#323232"/><stop offset="0.1065" stop-color="#5f5f5f"/><stop offset="0.1258" stop-color="#303030"/><stop offset="0.1452" stop-color="#585858"/><stop offset="0.1645" stop-color="#2e2e2e"/><stop offset="0.1839" stop-color="#555555"/><stop offset="0.2032" stop-color="#323232"/><stop offset="0.2258" stop-color="#555555"/><stop offset="0.2500" stop-color="#828282"/><stop offset="0.2742" stop-color="#b9b9b9"/><stop offset="0.3065" stop-color="#dadada"/><stop offset="0.3387" stop-color="#dcdcdc"/><stop offset="0.3710" stop-color="#c6c6c6"/><stop offset="0.4032" stop-color="#a5a5a5"/><stop offset="0.4355" stop-color="#8a8a8a"/><stop offset="0.4677" stop-color="#969696"/><stop offset="0.5000" stop-color="#686868"/><stop offset="0.5323" stop-color="#707070"/><stop offset="0.5645" stop-color="#4c4c4c"/><stop offset="0.5968" stop-color="#545454"/><stop offset="0.6290" stop-color="#383838"/><stop offset="0.6613" stop-color="#3e3e3e"/><stop offset="0.6935" stop-color="#282828"/><stop offset="0.7258" stop-color="#2d2d2d"/><stop offset="0.7581" stop-color="#1c1c1c"/><stop offset="0.8065" stop-color="#1a1a1a"/><stop offset="0.8548" stop-color="#0e0e0e"/><stop offset="0.9032" stop-color="#0c0c0c"/><stop offset="1.0000" stop-color="#000000"/></radialGradient></defs><rect x="437" y="521" width="111" height="113" fill="#000"/><rect x="437" y="521" width="111" height="113" fill="url(#s1)"/><rect x="437" y="638" width="113" height="112" fill="#000"/><rect x="437" y="638" width="113" height="112" fill="url(#s2)"/><rect x="449" y="755" width="96" height="110" fill="#000"/><rect x="449" y="755" width="96" height="110" fill="url(#s3)"/></svg>
<div id="note">Megj.:
Idegen tubus 245/1245 (Made in
                                     arancia (????)</div>
<div class="red" style="left:221.5px;top:920px;width:136.5px;height:26px"></div>
<div class="red" style="left:0px;top:942.5px;width:161.5px;height:26px"></div>
</body></html>
